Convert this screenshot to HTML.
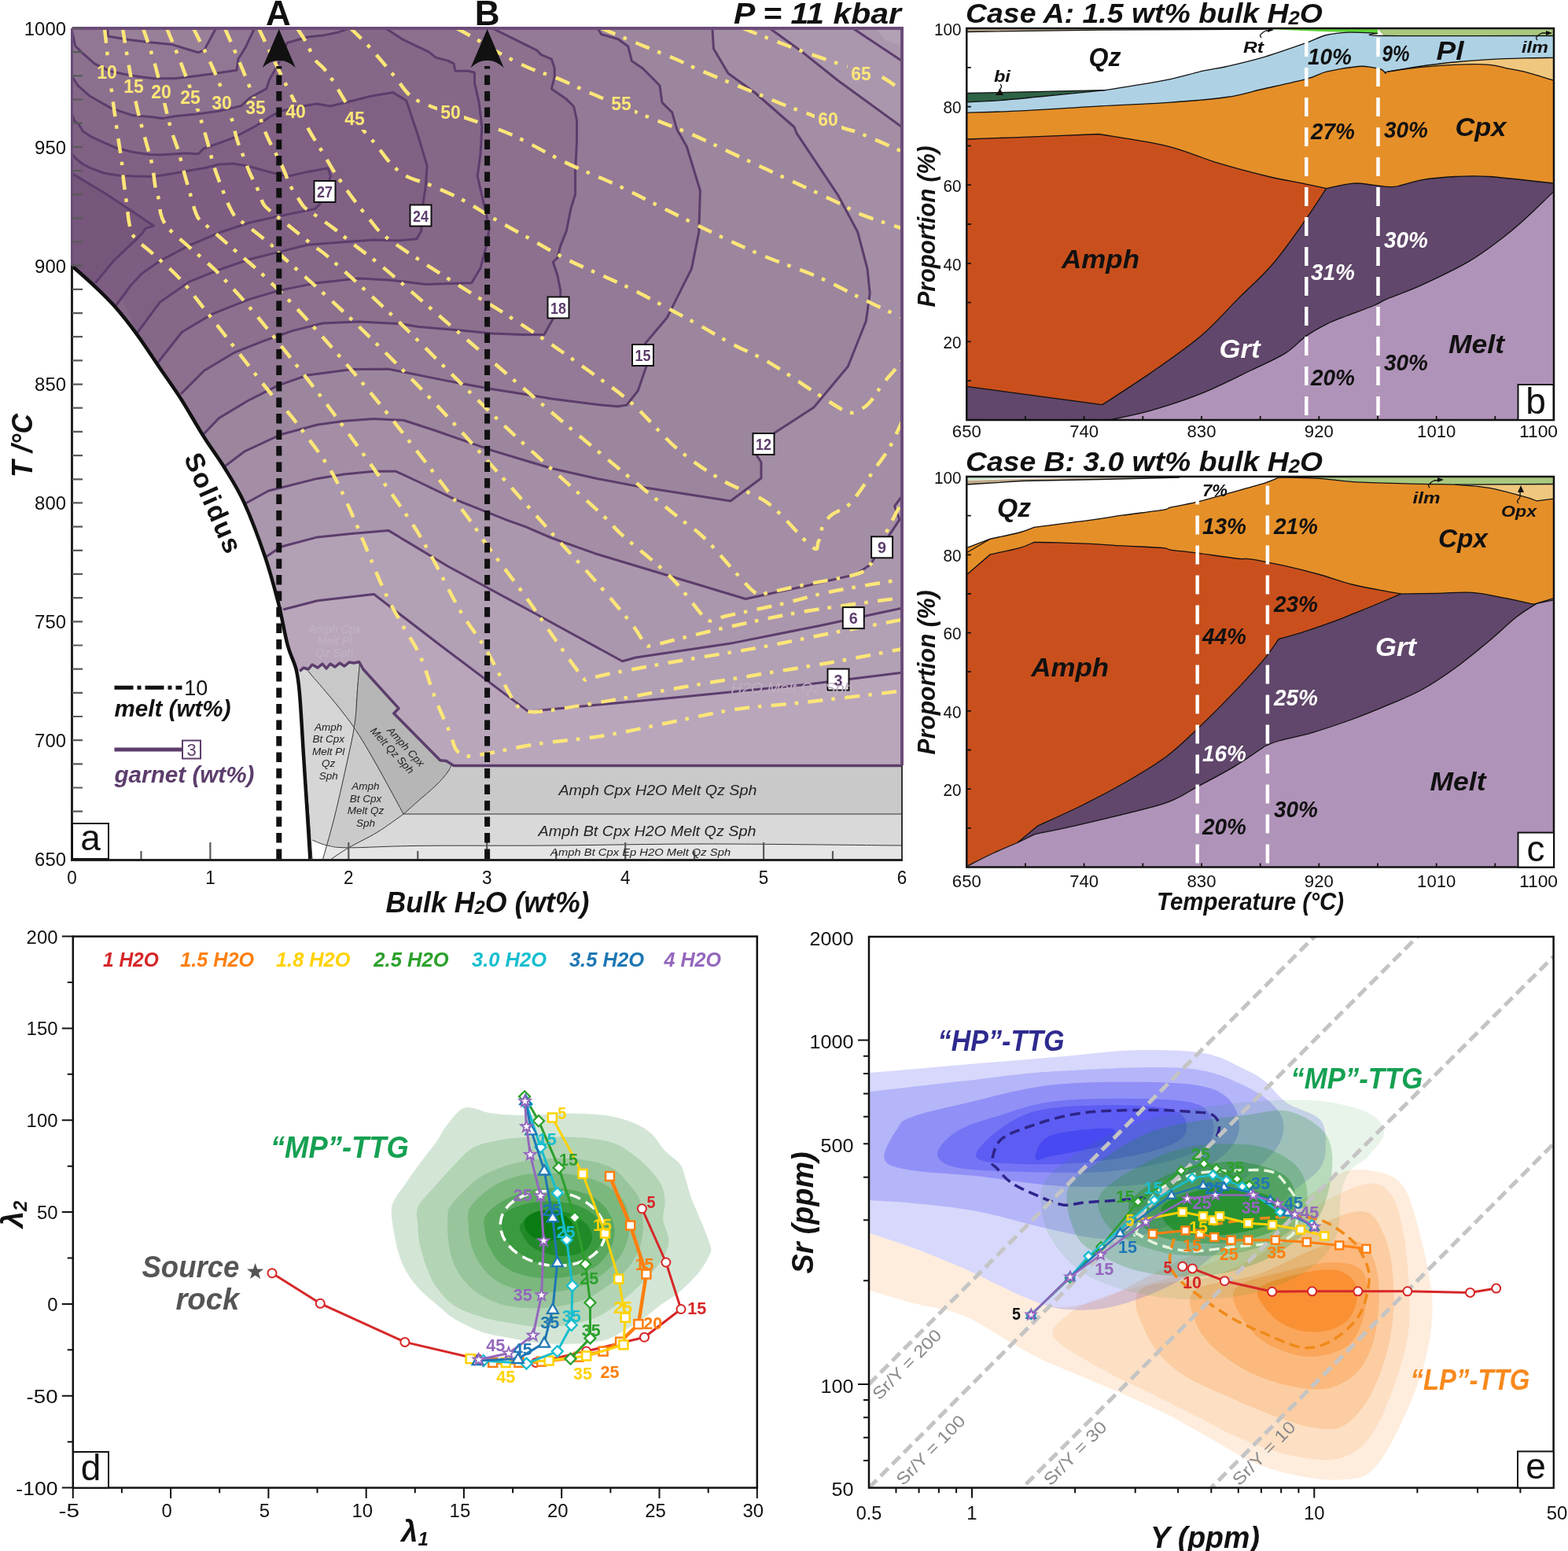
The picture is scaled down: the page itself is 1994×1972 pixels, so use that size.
<!DOCTYPE html><html><head><meta charset="utf-8"><style>html,body{margin:0;padding:0;background:#fff;}svg{display:block;}</style></head><body><svg width="1994" height="1972" viewBox="0 0 1994 1972"><defs><linearGradient id="gA" x1="0" y1="0" x2="1" y2="0.6"><stop offset="0" stop-color="#fff" stop-opacity="0"/><stop offset="1" stop-color="#fff" stop-opacity="0.10"/></linearGradient></defs>
<defs><clipPath id="clipA"><path d="M91.5,36 L1147,36 L1147,973.5 L1147,973.5 L577,973.5 L567.6,967.5 L559.8,966.7 L500.8,907 L507,900.7 L462,851 L456.6,841.5 L450,843 L444,842 L438,847 L432,843 L426,848 L420,844 L415,850 L410,844 L404,849 L397,845 L392,851 L386,849 L381.2,853.4 L376.6,851 L365.7,820 L354,766.8 L337,707.8 L310.6,639.4 L285.7,595 L259.6,556 L231.3,509 L203,467.5 L174.8,426.1 L146.5,390.3 L118.3,362 L91.5,338 Z"/></clipPath></defs>
<path d="M457,830 L462,851 L507,900.7 L500.8,907 L559.8,966.7 L567.6,967.5 L574,972 L569,982 L555,998 L530,1020 L513.2,1035 L482,980 L452.7,928.7 L451,921 L452,890 L455,860 Z" fill="#b5b6b5"/>
<path d="M392,853.4 L400,835 L457,830 L455,860 L452,890 L451,921 L452.7,928.7 Z" fill="#c8c8c8"/>
<path d="M451,921 L452.7,928.7 L482,980 L513.2,1035 L480,1058 L443.4,1077.8 L425,1086 L415,1092 L410.7,1092 L425,1040 L440,975 Z" fill="#cacaca"/>
<path d="M378,840 L400,835 L392,853.4 L452.7,928.7 L451,921 L440,975 L425,1040 L410.7,1092 L405,1092 L397,1068 L392,1053 L386,959.8 L381,882 Z" fill="#d6d6d6"/>
<path d="M574,965 L1147,965 L1147,1035 L513.2,1035 L530,1020 L555,998 L569,982 Z" fill="#c9c9c9"/>
<path d="M513.2,1035 L1147,1035 L1147,1075 L900,1073 L700,1075 L531.9,1075.4 L443.4,1077.8 L480,1058 Z" fill="#d9d9d9"/>
<path d="M397,1068 L415.4,1074.7 L443.4,1077.8 L531.9,1075.4 L700,1075 L900,1073 L1147,1075 L1147,1092 L394.4,1092 Z" fill="#e5e5e5"/>
<path d="M396,1068 L415.4,1074.7 L410.7,1092 L396,1092 Z" fill="#ffffff"/>
<g clip-path="url(#clipA)">
<path d="M91.5,36 L1147,36 L1147,973.5 L1147,973.5 L577,973.5 L567.6,967.5 L559.8,966.7 L500.8,907 L507,900.7 L462,851 L456.6,841.5 L450,843 L444,842 L438,847 L432,843 L426,848 L420,844 L415,850 L410,844 L404,849 L397,845 L392,851 L386,849 L381.2,853.4 L376.6,851 L365.7,820 L354,766.8 L337,707.8 L310.6,639.4 L285.7,595 L259.6,556 L231.3,509 L203,467.5 L174.8,426.1 L146.5,390.3 L118.3,362 L91.5,338 Z" fill="#b9a6bb"/>
<path d="M360.2,775 L403.7,763.7 L475.5,755.5 L560,820.5 L673.4,905.9 L690.4,902.8 L870.6,885.7 L1025.8,870.2 L1147,855.3 L1200,855 L1200,0 L60,0 L60,800 Z" fill="#b2a0b5"/>
<path d="M337,709 L357.1,695.3 L403.7,682.9 L447.1,678.4 L494.2,674.6 L522.5,691.6 L560.1,714.2 L569.6,720 L674.9,777 L791.4,840.7 L808.4,836 L932.7,817.4 L1041.4,795.7 L1147,773.3 L1200,773 L1200,77.6 L1084.5,36 L1147,77.6 L1084.5,0 L60,0 L60,720 Z" fill="#ab97ad"/>
<path d="M310.6,641 L341.6,624 L403.7,608.4 L437.7,603 L475.4,599.3 L503.6,599.3 L531.9,612.5 L579,635.1 L616.7,650.1 L644.9,661.4 L668.7,669.9 L701.4,684 L760,704.8 L948.2,761.5 L1025,745 L1088,730.4 L1106.6,718 L1143.9,660.6 L1137.6,643.5 L1147,631 L1200,631 L1200,161.5 L1147,161.5 L1065.8,102.5 L1019,65.2 L978.9,36 L978.9,0 L60,0 L60,650 Z" fill="#a38ea5"/>
<path d="M285.7,593 L310.6,574.2 L357.1,552.5 L403.7,540 L437.7,535.2 L475.4,532.4 L513,534.3 L550.7,546.5 L588.4,559.7 L626.1,572.9 L663.8,584.2 L701.4,595.5 L760,608.7 L817.4,619.6 L929,637 L968,608 L968,587.7 L962.3,579 L985.5,550 L1034.8,518.1 L1078.3,466 L1101.4,408 L1106.2,372.7 L1103,341.6 L1090.7,295 L1065.8,248.4 L1013,169.3 L1010,161.5 L960.2,118 L926,93.2 L907.5,62.1 L905.9,36 L905.9,0 L60,0 L60,600 Z" fill="#9c869e"/>
<path d="M257,554 L278.4,531.6 L316.1,509 L353.7,490.1 L391.4,476.9 L448,469.4 L494.2,469.3 L513,473 L550.7,480.6 L588.4,488.1 L626.1,494.7 L673.2,502.2 L701.4,507 L760,514.5 L785.5,516.7 L797,515 L811.2,496.9 L822,465.8 L820.3,437 L848.4,403.7 L879.5,341.6 L888.8,295 L890.4,242.2 L873.3,186.3 L860.9,164.6 L854.7,142.9 L842,130.4 L839,108.7 L817.4,87 L803.4,77.6 L798.8,59 L786,49.7 L764.6,43.5 L760,36 L760,0 L60,0 L60,560 Z" fill="#947a96"/>
<path d="M230,501 L259.6,471.3 L297.2,448.7 L334.9,433.6 L372.6,420.4 L410.3,411 L456.5,409 L509.3,411.8 L531.9,415.6 L588.4,420.3 L626.1,424.1 L663.8,425.6 L692,425.6 L703.3,405.2 L712.7,378.8 L712.7,369.1 L709,350.3 L703.3,333.3 L709,327.7 L712.7,312.6 L720.3,293.8 L725.9,265.5 L731.6,246.7 L731.6,218.4 L733.5,180.7 L733.5,152.5 L729.7,135.5 L720.3,126.1 L701.4,112.9 L705.2,97.8 L705.2,86.5 L701.4,75.2 L688.2,69.6 L682.6,63.9 L626.1,36 L626,0 L60,0 L60,510 Z" fill="#8c708e"/>
<path d="M200,462 L231.3,422.3 L269,399.7 L316.1,380.9 L353.7,369.6 L400.8,360.1 L456.5,354 L494.2,355.9 L541.3,361.6 L599.7,359.7 L611,340.9 L618.5,312.6 L622.3,290 L616.7,265.5 L607.2,224 L611,195.8 L612.9,161.9 L609.1,129.9 L603.5,105.4 L603.5,92.2 L595.9,90.3 L579,90.3 L577.1,80.9 L569.6,77.1 L554.5,73.3 L545.1,65.8 L513,50.7 L490.4,36 L490,0 L60,0 L60,470 Z" fill="#856888"/>
<path d="M91.5,145 L94.7,153.5 L100.5,158.7 L105.7,167.1 L116.2,173.9 L131.9,181.2 L147.6,188 L168.5,193.3 L190,196.4 L206.8,196.7 L236.9,194.8 L252,195.8 L259,189 L297.2,175.1 L325.5,160 L346.2,146.8 L357.5,141.2 L382,135.5 L402.7,132 L420,135 L437.7,130.8 L471.6,122.3 L499.8,117.6 L516.8,128 L531.9,173.2 L543.2,210.9 L541.3,237.2 L537.5,261.7 L535.7,293.8 L530,303.8 L505.5,306 L475.4,305 L447.1,306.9 L391.4,311.2 L353.7,320.6 L316.1,330 L278.4,343.2 L240.7,358.2 L203,384.6 L174,424 L60,145 L60,430 Z" fill="#806184"/>
<path d="M91.5,196 L97.8,202.7 L105.7,209 L116.2,214.2 L131.9,220 L150,223 L169.1,224 L195.5,224.5 L221.9,220.3 L259.6,213.7 L278.4,209 L297.2,208 L317.7,211.8 L340,218 L365.4,224.2 L391.4,218.4 L417.1,213.8 L420.5,224 L412,250 L406.8,259.4 L400.6,265.6 L353.7,275 L317.7,283 L278.4,296 L240.7,312 L203,331.9 L180,348 L165.4,364 L146.5,390 L60,390 L60,196 Z" fill="#7d5d81"/>
<path d="M91.5,222 L94.1,222.1 L135.5,247 L172.8,271.8 L195.5,287.2 L185.2,290.4 L181.1,296.6 L172.8,304.9 L145,331 L121.1,360 L60,360 L60,222 Z" fill="#76567a"/>
<path d="M91.5,97 L99.4,109.1 L114.5,122.3 L140.9,137.4 L169.1,146.8 L193.6,148.7 L206.8,150.6 L221.9,147.7 L250.1,144.9 L278.4,141.2 L306.6,134.6 L318,124.2 L338.7,112.9 L342.5,101.6 L349.9,88.5 L357,75 L365,54.5 L391.4,47 L410.3,45.1 L429.1,41.3 L444.2,36 L444,0 L60,0 L60,97 Z" fill="#8c718f"/>
<path d="M91.5,39 L95.7,58.3 L105.1,67.7 L120.1,80.9 L139,90.3 L165.4,95.9 L195.5,99.7 L221.9,99.7 L246.4,96.9 L269,94 L301,89.3 L302.9,75.2 L312.3,60.1 L323.6,36 L323.6,0 L60,0 L60,39 Z" fill="#927794"/>
<path d="M137.1,36 L137.1,46 L165.4,50.7 L188,53.5 L218.1,56.4 L252,66.7 L259.6,63.9 L274.6,36 L274.6,0 L137,0 Z" fill="#998099"/>
</g>
<path d="M392,853.4 C402.1,866 432.5,898.4 452.7,928.7 C472.9,959 503.1,1017.3 513.2,1035" fill="none" stroke="#333" stroke-width="1"/>
<path d="M457.3,844.8 C456.9,849 456.1,857.3 455,870 C453.9,882.7 453.5,903.5 451,921 C448.5,938.5 444.3,955.2 440,975 C435.7,994.8 429.9,1020.5 425,1040 C420.1,1059.5 413.1,1083.3 410.7,1092" fill="none" stroke="#333" stroke-width="1"/>
<path d="M574,972.5 C573.2,974.1 572.2,977.8 569,982 C565.8,986.2 561.5,991.7 555,998 C548.5,1004.3 537,1013.8 530,1020 C523,1026.2 516,1032.5 513.2,1035" fill="none" stroke="#333" stroke-width="1"/>
<path d="M513.2,1035 L1147,1035" fill="none" stroke="#333" stroke-width="1"/>
<path d="M513.2,1035 C507.7,1038.8 491.6,1050.9 480,1058 C468.4,1065.1 453.1,1072.1 443.4,1077.8 C433.7,1083.5 425.2,1089.6 421.6,1092" fill="none" stroke="#333" stroke-width="1"/>
<path d="M397,1068 C400.1,1069.1 407.7,1073.1 415.4,1074.7 C423.1,1076.3 424,1077.7 443.4,1077.8 C462.8,1077.9 489.1,1075.9 531.9,1075.4 C574.7,1074.9 638.6,1075.4 700,1075 C761.4,1074.6 825.5,1073 900,1073 C974.5,1073 1105.8,1074.7 1147,1075" fill="none" stroke="#333" stroke-width="1"/>
<path d="M384,930 C385,941.7 387.8,973 390,1000 C392.2,1027 395.8,1076.7 397,1092" fill="none" stroke="#333" stroke-width="1"/>
<g fill="none" stroke="#5c3d6c" stroke-width="3" stroke-linejoin="round" clip-path="url(#clipA)">
<path d="M91.5,222 L94.1,222.1 L135.5,247 L172.8,271.8 L195.5,287.2 L185.2,290.4 L181.1,296.6 L172.8,304.9 L145,331 L121.1,360"/>
<path d="M91.5,196 L97.8,202.7 L105.7,209 L116.2,214.2 L131.9,220 L150,223 L169.1,224 L195.5,224.5 L221.9,220.3 L259.6,213.7 L278.4,209 L297.2,208 L317.7,211.8 L340,218 L365.4,224.2 L391.4,218.4 L417.1,213.8 L420.5,224 L412,250 L406.8,259.4 L400.6,265.6 L353.7,275 L317.7,283 L278.4,296 L240.7,312 L203,331.9 L180,348 L165.4,364 L146.5,390"/>
<path d="M91.5,145 L94.7,153.5 L100.5,158.7 L105.7,167.1 L116.2,173.9 L131.9,181.2 L147.6,188 L168.5,193.3 L190,196.4 L206.8,196.7 L236.9,194.8 L252,195.8 L259,189 L297.2,175.1 L325.5,160 L346.2,146.8 L357.5,141.2 L382,135.5 L402.7,132 L420,135 L437.7,130.8 L471.6,122.3 L499.8,117.6 L516.8,128 L531.9,173.2 L543.2,210.9 L541.3,237.2 L537.5,261.7 L535.7,293.8 L530,303.8 L505.5,306 L475.4,305 L447.1,306.9 L391.4,311.2 L353.7,320.6 L316.1,330 L278.4,343.2 L240.7,358.2 L203,384.6 L174,424"/>
<path d="M200,462 L231.3,422.3 L269,399.7 L316.1,380.9 L353.7,369.6 L400.8,360.1 L456.5,354 L494.2,355.9 L541.3,361.6 L599.7,359.7 L611,340.9 L618.5,312.6 L622.3,290 L616.7,265.5 L607.2,224 L611,195.8 L612.9,161.9 L609.1,129.9 L603.5,105.4 L603.5,92.2 L595.9,90.3 L579,90.3 L577.1,80.9 L569.6,77.1 L554.5,73.3 L545.1,65.8 L513,50.7 L490.4,36"/>
<path d="M91.5,97 L99.4,109.1 L114.5,122.3 L140.9,137.4 L169.1,146.8 L193.6,148.7 L206.8,150.6 L221.9,147.7 L250.1,144.9 L278.4,141.2 L306.6,134.6 L318,124.2 L338.7,112.9 L342.5,101.6 L349.9,88.5 L357,75 L365,54.5 L391.4,47 L410.3,45.1 L429.1,41.3 L444.2,36"/>
<path d="M91.5,39 L95.7,58.3 L105.1,67.7 L120.1,80.9 L139,90.3 L165.4,95.9 L195.5,99.7 L221.9,99.7 L246.4,96.9 L269,94 L301,89.3 L302.9,75.2 L312.3,60.1 L323.6,36"/>
<path d="M137.1,36 L137.1,46 L165.4,50.7 L188,53.5 L218.1,56.4 L252,66.7 L259.6,63.9 L274.6,36"/>
<path d="M230,501 L259.6,471.3 L297.2,448.7 L334.9,433.6 L372.6,420.4 L410.3,411 L456.5,409 L509.3,411.8 L531.9,415.6 L588.4,420.3 L626.1,424.1 L663.8,425.6 L692,425.6 L703.3,405.2 L712.7,378.8 L712.7,369.1 L709,350.3 L703.3,333.3 L709,327.7 L712.7,312.6 L720.3,293.8 L725.9,265.5 L731.6,246.7 L731.6,218.4 L733.5,180.7 L733.5,152.5 L729.7,135.5 L720.3,126.1 L701.4,112.9 L705.2,97.8 L705.2,86.5 L701.4,75.2 L688.2,69.6 L682.6,63.9 L626.1,36"/>
<path d="M257,554 L278.4,531.6 L316.1,509 L353.7,490.1 L391.4,476.9 L448,469.4 L494.2,469.3 L513,473 L550.7,480.6 L588.4,488.1 L626.1,494.7 L673.2,502.2 L701.4,507 L760,514.5 L785.5,516.7 L797,515 L811.2,496.9 L822,465.8 L820.3,437 L848.4,403.7 L879.5,341.6 L888.8,295 L890.4,242.2 L873.3,186.3 L860.9,164.6 L854.7,142.9 L842,130.4 L839,108.7 L817.4,87 L803.4,77.6 L798.8,59 L786,49.7 L764.6,43.5 L760,36"/>
<path d="M285.7,593 L310.6,574.2 L357.1,552.5 L403.7,540 L437.7,535.2 L475.4,532.4 L513,534.3 L550.7,546.5 L588.4,559.7 L626.1,572.9 L663.8,584.2 L701.4,595.5 L760,608.7 L817.4,619.6 L929,637 L968,608 L968,587.7 L962.3,579 L985.5,550 L1034.8,518.1 L1078.3,466 L1101.4,408 L1106.2,372.7 L1103,341.6 L1090.7,295 L1065.8,248.4 L1013,169.3 L1010,161.5 L960.2,118 L926,93.2 L907.5,62.1 L905.9,36"/>
<path d="M310.6,641 L341.6,624 L403.7,608.4 L437.7,603 L475.4,599.3 L503.6,599.3 L531.9,612.5 L579,635.1 L616.7,650.1 L644.9,661.4 L668.7,669.9 L701.4,684 L760,704.8 L948.2,761.5 L1025,745 L1088,730.4 L1106.6,718 L1143.9,660.6 L1137.6,643.5 L1147,631"/>
<path d="M1147,161.5 L1065.8,102.5 L1019,65.2 L978.9,36"/>
<path d="M337,709 L357.1,695.3 L403.7,682.9 L447.1,678.4 L494.2,674.6 L522.5,691.6 L560.1,714.2 L569.6,720 L674.9,777 L791.4,840.7 L808.4,836 L932.7,817.4 L1041.4,795.7 L1147,773.3"/>
<path d="M1147,77.6 L1084.5,36"/>
<path d="M360.2,775 L403.7,763.7 L475.5,755.5 L560,820.5 L673.4,905.9 L690.4,902.8 L870.6,885.7 L1025.8,870.2 L1147,855.3"/>
</g>
<path d="M381.2,853.4 L386,849 L392,851 L397,845 L404,849 L410,844 L415,850 L420,844 L426,848 L432,843 L438,847 L444,842 L450,843 L456.6,841.5 L462,851 L507,900.7 L500.8,907 L559.8,966.7 L567.6,967.5 L577,973.5 L1147,973.5" fill="none" stroke="#5c3d6c" stroke-width="3.5" stroke-linejoin="round"/>
<mask id="mA" maskUnits="userSpaceOnUse" x="0" y="0" width="1994" height="1972"><rect x="0" y="0" width="1994" height="1972" fill="#fff"/><rect x="119" y="80" width="34" height="26" fill="#000"/><rect x="153" y="98" width="34" height="26" fill="#000"/><rect x="188" y="105" width="34" height="26" fill="#000"/><rect x="225" y="112" width="34" height="26" fill="#000"/><rect x="265" y="119" width="34" height="26" fill="#000"/><rect x="308" y="125" width="34" height="26" fill="#000"/><rect x="359" y="130" width="34" height="26" fill="#000"/><rect x="434" y="139" width="34" height="26" fill="#000"/><rect x="556" y="131" width="34" height="26" fill="#000"/><rect x="773" y="120" width="34" height="26" fill="#000"/><rect x="1036" y="140" width="34" height="26" fill="#000"/><rect x="1078" y="82" width="34" height="26" fill="#000"/></mask>
<g clip-path="url(#clipA)"><g mask="url(#mA)" fill="none" stroke="#fde678" stroke-width="4.5" stroke-dasharray="19 11 4.5 12.5">
<path d="M133,36 C134.2,46.7 137.5,79.3 140,100 C142.5,120.7 145.6,143.1 148,160 C150.4,176.9 152.6,189.7 154.2,201.4 C155.8,213.1 156.1,220.4 157.3,230.4 C158.5,240.4 160.3,252.8 161.4,261.4 C162.5,270 162.9,276.1 164,282 C165.1,287.9 166,292.8 168,297 C170,301.2 171.1,302.2 176,307 C180.9,311.8 188.5,317.3 197.7,325.6 C206.9,333.9 218.8,343.4 231,357 C243.2,370.6 252.6,383.7 271,407 C289.4,430.3 325.7,477.4 341.6,497 C357.5,516.6 358.7,515.2 366.5,524.5 C374.3,533.8 379.4,540.6 388.2,552.5 C397,564.4 409.7,579.8 419.3,596 C428.9,612.2 434.5,624.2 446,650 C457.5,675.8 477.4,726.4 488.4,750.6 C499.4,774.8 504.3,781 512,795 C519.7,809 527.6,819 534.5,834.5 C541.4,850 547.3,872.1 553.6,888.3 C559.9,904.5 567.8,921 572.2,931.8 C576.6,942.6 576.4,948.1 580,953 C583.6,957.9 587.6,960.4 594,961.3 C600.4,962.2 603.1,960.8 618.3,958.2 C633.5,955.6 660.2,949.5 685.4,945.6 C710.6,941.8 741.3,939.7 769.3,935.1 C797.2,930.5 825.1,923.9 853.1,918.3 C881.1,912.7 909,905.8 937,901.6 C965,897.4 985.9,897.1 1020.9,893.2 C1055.9,889.4 1126,881 1147,878.5"/>
<path d="M156,36 C157.5,45 161.8,72.7 165,90 C168.2,107.3 171.6,125.2 175,140 C178.4,154.8 182.1,167 185.2,178.6 C188.3,190.2 191.4,199.7 193.5,209.7 C195.6,219.7 196.3,231.4 197.7,238.7 C199.1,245.9 200.7,247.6 201.8,253.2 C202.9,258.8 203.1,266.7 204.5,272 C205.9,277.3 207.7,281.2 210,285 C212.3,288.8 212.9,289.4 218.4,294.6 C223.9,299.8 234.9,309.1 243.2,316.3 C251.5,323.5 260.8,331.3 268,338 C275.2,344.7 276.2,345.2 286.7,356.7 C297.2,368.2 308.8,379.8 331,407 C353.2,434.2 389.6,479.5 420,520 C450.4,560.5 492.3,619.2 513.5,650 C534.7,680.8 535.2,683.5 547.1,704.5 C559,725.5 572.9,755.5 584.8,775.8 C596.7,796.1 607.1,807.2 618.3,826.1 C629.5,845 643.8,876.2 651.9,889 C660,901.8 660.6,900.5 667,903 C673.4,905.5 672,906.4 690.4,904.3 C708.8,902.2 747.4,895.6 777.4,890.4 C807.4,885.2 839.5,878.7 870.6,873.3 C901.7,867.9 932.7,863 963.7,857.8 C994.8,852.6 1026.4,847.6 1056.9,842.2 C1087.5,836.8 1132,828 1147,825.2"/>
<path d="M182,36 C183.8,41.3 189.5,57.4 192.7,67.7 C195.9,78 197.3,82.4 201.2,97.8 C205.1,113.2 212.1,144.4 216.3,160 C220.5,175.6 223.5,180.8 226.6,191.1 C229.7,201.4 232.1,212.1 234.9,222.1 C237.7,232.1 241,243.4 243.2,251.1 C245.4,258.8 246.5,263.7 248,268 C249.5,272.3 250.3,274.5 252,277 C253.7,279.5 253.9,279.4 258,283 C262.1,286.6 269.1,292.4 276.3,298.7 C283.5,304.9 291.2,311.7 301.2,320.5 C311.2,329.3 321.4,337.1 336.4,351.5 C351.4,365.9 367.1,380.6 391,407 C414.9,433.4 447,469.5 480,510 C513,550.5 566,619.7 589,650 C612,680.3 605,673.7 618.3,691.9 C631.6,710.1 654,738.7 668.7,759 C683.4,779.3 694.5,796.7 706.4,813.5 C718.3,830.3 733,851.4 739.9,859.6 C746.8,867.9 741.8,863.6 748,863 C754.2,862.4 757,860.2 777.4,856.2 C797.8,852.2 839.5,844.5 870.6,839.1 C901.7,833.7 932.7,829.3 963.7,823.6 C994.8,817.9 1026.4,811 1056.9,805 C1087.5,799 1132,790.8 1147,787.9"/>
<path d="M212,36 C215,43.3 223.7,63.5 230,80 C236.3,96.5 244.3,118.2 250,135 C255.7,151.8 260.2,167.9 263.9,180.7 C267.6,193.5 268.9,201.5 272.2,211.8 C275.5,222.2 280.8,235.4 283.6,242.8 C286.4,250.2 287.1,252.3 288.8,256.3 C290.5,260.3 292.1,263.7 294,267 C295.9,270.3 295.9,272.1 300,276 C304.1,279.9 311.4,284.5 318.8,290.4 C326.2,296.2 339,306.1 344.7,311.1 C350.4,316.1 335.7,304.5 352.9,320.5 C370.1,336.5 413.5,373.8 448,407 C482.5,440.2 521.8,479.5 560,520 C598.2,560.5 651.9,622 677,650 C702.1,678 697.3,673 710.6,687.7 C723.9,702.4 741.3,720.5 756.7,738 C772.1,755.5 792.3,779.3 802.8,792.6 C813.3,805.9 815.4,813 819.6,817.7 C823.8,822.4 822.1,821.6 828,821 C833.9,820.4 837.5,818.5 855,814.3 C872.5,810.1 904.2,801.9 932.7,795.7 C961.2,789.5 990.1,783 1025.8,777 C1061.5,771 1126.8,762.8 1147,760"/>
<path d="M246,36 C250,44.2 262.7,68.5 270,85 C277.3,101.5 284.8,119.7 290,135 C295.2,150.3 298.3,166.9 301.2,176.6 C304.1,186.3 304.6,185.9 307.4,193.1 C310.1,200.3 314.6,212.8 317.7,220 C320.8,227.2 323.8,231.6 326,236.6 C328.2,241.6 329.5,246 331.2,250.1 C332.9,254.2 333.1,257.4 336.4,261.4 C339.7,265.4 345,269.1 350.9,273.9 C356.8,278.7 363.7,284 371.6,290.4 C379.5,296.8 389.9,305.3 398.5,312.2 C407.1,319.1 405.6,316 423.3,331.8 C441.1,347.6 468.9,372.3 505,407 C541.1,441.7 597.3,499.5 640,540 C682.7,580.5 736,626.8 761,650 C786,673.2 774.9,665.4 790.2,679.4 C805.6,693.4 835.6,716.4 853.1,733.9 C870.6,751.4 885.8,775.2 895.1,784.2 C904.4,793.2 904.3,788.2 909,788 C913.7,787.8 909.1,786.6 923.4,783.2 C937.7,779.8 972.5,772.9 994.8,767.7 C1017,762.5 1031.5,757.4 1056.9,752.2 C1082.3,747 1132,739.2 1147,736.6"/>
<path d="M286,36 C289.2,43.3 298.5,64.3 305,80 C311.5,95.7 320.1,116.7 325,130 C329.9,143.3 331.2,151.4 334.3,160 C337.4,168.6 339.6,173.4 343.6,181.7 C347.6,190 353.8,200.5 358.1,209.7 C362.4,218.8 365.9,229.3 369.5,236.6 C373.1,243.8 377,248.7 379.9,253.2 C382.8,257.7 384,260.4 387.1,263.5 C390.2,266.6 392.3,267.3 398.5,271.8 C404.7,276.3 415.8,283.8 424.4,290.4 C433,296.9 439.7,302.8 450.2,311.1 C460.7,319.4 468.4,324.1 487.5,340.1 C506.6,356.1 526.2,373.7 565,407 C603.8,440.3 672,499.5 720,540 C768,580.5 823.8,626.1 853,650 C882.2,673.9 881.1,670.2 895.1,683.5 C909.1,696.8 925.8,717.8 937,729.7 C948.2,741.6 955,751 962.2,754.8 C969.4,758.6 969.4,754.7 980,752.7 C990.6,750.7 1007.8,746.6 1025.8,742.9 C1043.8,739.2 1074.5,734.5 1088,730.4 C1101.5,726.2 1101.4,724.2 1106.6,718 C1111.8,711.8 1114.3,702.5 1119,693.2 C1123.7,683.9 1129.8,671.3 1134.5,662.1 C1139.2,652.9 1144.9,642 1147,638"/>
<path d="M329,36 C332.5,43.3 343.2,66 350,80 C356.8,94 362.9,106 370,120 C377.1,134 385.7,151.9 392.3,164.1 C398.9,176.3 404.7,184.5 409.9,193.1 C415.1,201.7 419.2,209.3 423.3,215.9 C427.4,222.5 430.2,226.1 434.7,232.5 C439.2,238.9 444.2,246.3 450.2,254.2 C456.2,262.1 464.3,272.3 470.9,280.1 C477.5,287.9 478.5,291.7 490,300.8 C501.5,309.9 521.7,322.9 540,335 C558.3,347.1 585.2,363.9 600,373.2 C614.8,382.5 614.5,381.4 629,390.6 C643.5,399.8 667.7,415.3 687,428.3 C706.3,441.3 725.6,454.8 744.9,468.8 C764.2,482.8 783.6,495.4 802.9,512.3 C822.2,529.2 841.6,553.9 860.9,570.3 C880.2,586.7 899.5,599.3 918.8,610.9 C938.1,622.5 957.9,625.9 976.8,639.9 C995.6,653.9 1021.3,686.7 1031.9,694.9 C1042.5,703.1 1038.2,693.5 1040.6,689.1 C1043,684.8 1043.5,674.6 1046.4,668.8 C1049.3,663 1052.7,658.6 1058,654.3 C1063.3,650 1072.5,647.6 1078.3,642.8 C1084.1,638 1087.5,632.6 1092.8,625.4 C1098.1,618.1 1103.9,608.5 1110.2,599.3 C1116.5,590.1 1124.3,580.8 1130.4,570.3 C1136.5,559.8 1144.2,541.7 1147,536"/>
<path d="M378,36 C380,39.2 386.3,48.5 390,55 C393.7,61.5 396.4,70 400,75.2 C403.6,80.5 407.5,82.1 411.3,86.5 C415.1,90.9 417.9,94.4 422.6,101.6 C427.3,108.8 434.6,121.7 439.6,129.9 C444.6,138.1 449,144.7 452.8,150.6 C456.6,156.5 458.4,160.6 462.2,165.6 C466,170.6 471.9,176.6 475.4,180.7 C478.8,184.8 479.1,185.4 482.9,190.1 C486.7,194.8 492.4,203.3 498,209 C503.6,214.7 508.6,219.6 516.8,224 C524.9,228.4 535,230.3 546.9,235.3 C558.8,240.3 575.2,247.3 588.4,254.2 C601.6,261.1 612,268.6 626.1,276.8 C640.2,285 657.5,294.4 673.2,303.2 C688.9,312 705,321.7 720.3,329.5 C735.6,337.3 751.4,343.7 765.2,350 C779,356.3 788.4,360.1 802.9,367.4 C817.4,374.6 837.7,385.8 852.2,393.5 C866.7,401.2 876.9,406.6 889.9,413.8 C902.9,421.1 915.9,429.3 930.4,437 C944.9,444.7 959.4,450 976.8,460.1 C994.2,470.2 1017.9,487.2 1034.8,497.8 C1051.7,508.4 1067.7,520.5 1078.3,523.9 C1088.9,527.3 1093.3,521 1098.6,518.1 C1103.9,515.2 1106.3,511.3 1110.2,506.5 C1114.1,501.7 1116.9,495.4 1121.7,489.1 C1126.5,482.8 1134.9,474 1139.1,468.8 C1143.3,463.6 1145.7,459.8 1147,458"/>
<path d="M446,36 C450,40 461,50.2 470,60 C479,69.8 491.2,84.6 500,95 C508.8,105.4 514.2,115.5 522.5,122.3 C530.8,129.1 539,131.6 550,136 C561,140.4 571.6,142.8 588.4,148.7 C605.2,154.6 628.6,161.6 650.6,171.3 C672.6,181 697.7,196.3 720.3,207.1 C742.9,217.9 764.7,226 786,236 C807.3,246 827.2,256.7 848,267 C868.8,277.3 889.8,288.2 910.6,298 C931.4,307.8 951.1,317 972.7,326 C994.3,335 1019.3,343 1040,352 C1060.7,361 1079.1,371.3 1096.9,380 C1114.7,388.7 1138.7,400 1147,404"/>
<path d="M581,36 C585.4,38.5 598.1,45.4 607.2,50.7 C616.3,56 624.5,61.7 635.5,67.7 C646.5,73.7 661,81.2 673.2,86.5 C685.5,91.8 694.5,93.7 709,99.7 C723.5,105.7 741.9,114.6 760,122.3 C778.1,130 797.5,137.9 817.4,146 C837.3,154.1 861.4,163.1 879.5,170.8 C897.6,178.6 910.5,185.2 926,192.5 C941.5,199.8 957.2,207.1 972.7,214.3 C988.2,221.6 1003.8,228.8 1019.3,236 C1034.8,243.2 1052.9,251.6 1065.8,257.8 C1078.7,264 1083.4,267.9 1096.9,273.3 C1110.4,278.7 1138.7,287.5 1147,290.4"/>
<path d="M765,36 C772.5,39.2 794.5,48.6 810,55 C825.5,61.4 844.1,68.7 857.8,74.5 C871.4,80.3 874.8,82.8 891.9,90 C909,97.2 942.6,110.8 960.2,118 C977.8,125.2 985.1,128.6 997.5,133.5 C1009.9,138.4 1022.9,142.8 1034.8,147.5 C1046.7,152.2 1058.7,157.6 1069,161.5 C1079.3,165.4 1083.9,165.6 1096.9,170.8 C1109.9,176 1138.7,188.9 1147,192.5"/>
<path d="M944.7,36 C954.5,39.8 983.5,51.5 1003.7,59 C1023.9,66.5 1047.7,75 1065.8,80.7 C1083.9,86.4 1098.9,87.5 1112.4,93.2 C1125.9,98.9 1141.2,111.3 1147,114.9"/>
</g></g>
<g font-family="Liberation Sans, Arial, sans-serif" font-weight="bold" font-size="23" fill="#fde678" text-anchor="middle">
<text x="136" y="100">10</text>
<text x="170" y="118">15</text>
<text x="205" y="125">20</text>
<text x="242" y="132">25</text>
<text x="282" y="139">30</text>
<text x="325" y="145">35</text>
<text x="376" y="150">40</text>
<text x="451" y="159">45</text>
<text x="573" y="151">50</text>
<text x="790" y="140">55</text>
<text x="1053" y="160">60</text>
<text x="1095" y="102">65</text>
</g>
<path d="M91.5,36 L1147,36 L1147,973" fill="none" stroke="#6b4c78" stroke-width="4"/>
<path d="M91.5,36 L91.5,338" fill="none" stroke="#6b4c78" stroke-width="3"/>
<path d="M1147,973 L1147,1092" fill="none" stroke="#333" stroke-width="2"/>
<path d="M91.5,338 C96,342 109.1,353.3 118.3,362 C127.5,370.7 137.1,379.6 146.5,390.3 C155.9,401 165.4,413.2 174.8,426.1 C184.2,439 193.6,453.7 203,467.5 C212.4,481.3 221.9,494.2 231.3,509 C240.7,523.8 250.5,541.7 259.6,556 C268.7,570.3 277.2,581.1 285.7,595 C294.2,608.9 302.1,620.6 310.6,639.4 C319.2,658.2 329.8,686.6 337,707.8 C344.2,729 349.2,748.1 354,766.8 C358.8,785.5 361.9,806 365.7,820 C369.5,834 374.1,840.7 376.6,851 C379.2,861.3 379.4,863.9 381,882 C382.6,900.1 384.2,931.3 386,959.8 C387.8,988.3 390.6,1031 392,1053 C393.4,1075 394,1085.5 394.4,1092" fill="none" stroke="#111" stroke-width="4.5"/>
<path d="M91.5,338 L91.5,1093.5 L1148,1093.5" fill="none" stroke="#222" stroke-width="3"/>
<path d="M92,1092 h13 M92,1061.8 h13 M92,1031.7 h13 M92,1001.5 h13 M92,971.3 h13 M92,941.1 h13 M92,911 h13 M92,880.8 h13 M92,850.6 h13 M92,820.5 h13 M92,790.3 h13 M92,760.1 h13 M92,729.9 h13 M92,699.8 h13 M92,669.6 h13 M92,639.4 h13 M92,609.3 h13 M92,579.1 h13 M92,548.9 h13 M92,518.7 h13 M92,488.6 h13 M92,458.4 h13 M92,428.2 h13 M92,398.1 h13 M92,367.9 h13 M92,337.7 h13 M92,307.5 h13 M92,277.4 h13 M92,247.2 h13 M92,217 h13 M92,186.9 h13 M92,156.7 h13 M92,126.5 h13 M92,96.3 h13 M92,66.2 h13 M92,36 h13 M179.5,1092 v-10 M267.4,1092 v-21 M355.4,1092 v-10 M443.3,1092 v-21 M531.3,1092 v-10 M619.2,1092 v-21 M707.2,1092 v-10 M795.2,1092 v-21 M883.1,1092 v-10 M971.1,1092 v-21 M1059,1092 v-10" stroke="#5a5a5a" stroke-width="2.2" fill="none"/>
<path d="M354.8,1092 L354.8,84" stroke="#111" stroke-width="7" stroke-dasharray="12.5 8"/>
<path d="M354.8,37 L333.8,86 Q344.8,76 354.8,77 Q364.8,76 375.8,86 Z" fill="#111"/>
<path d="M619.6,1092 L619.6,84" stroke="#111" stroke-width="7" stroke-dasharray="12.5 8"/>
<path d="M619.6,37 L598.6,86 Q609.6,76 619.6,77 Q629.6,76 640.6,86 Z" fill="#111"/>
<rect x="399.5" y="230" width="27" height="27" fill="#fff" stroke="#111" stroke-width="2"/>
<text x="413" y="251" font-family="Liberation Sans, Arial, sans-serif" font-weight="bold" font-size="21" fill="#5c3d6c" text-anchor="middle" textLength="20" lengthAdjust="spacingAndGlyphs">27</text>
<rect x="521.5" y="260.5" width="27" height="27" fill="#fff" stroke="#111" stroke-width="2"/>
<text x="535" y="281.5" font-family="Liberation Sans, Arial, sans-serif" font-weight="bold" font-size="21" fill="#5c3d6c" text-anchor="middle" textLength="20" lengthAdjust="spacingAndGlyphs">24</text>
<rect x="696.5" y="377.5" width="27" height="27" fill="#fff" stroke="#111" stroke-width="2"/>
<text x="710" y="398.5" font-family="Liberation Sans, Arial, sans-serif" font-weight="bold" font-size="21" fill="#5c3d6c" text-anchor="middle" textLength="20" lengthAdjust="spacingAndGlyphs">18</text>
<rect x="804" y="438" width="27" height="27" fill="#fff" stroke="#111" stroke-width="2"/>
<text x="817.5" y="459" font-family="Liberation Sans, Arial, sans-serif" font-weight="bold" font-size="21" fill="#5c3d6c" text-anchor="middle" textLength="20" lengthAdjust="spacingAndGlyphs">15</text>
<rect x="957.5" y="551" width="27" height="27" fill="#fff" stroke="#111" stroke-width="2"/>
<text x="971" y="572" font-family="Liberation Sans, Arial, sans-serif" font-weight="bold" font-size="21" fill="#5c3d6c" text-anchor="middle" textLength="20" lengthAdjust="spacingAndGlyphs">12</text>
<rect x="1108.1" y="682.3" width="27" height="27" fill="#fff" stroke="#111" stroke-width="2"/>
<text x="1121.6" y="703.3" font-family="Liberation Sans, Arial, sans-serif" font-weight="bold" font-size="21" fill="#5c3d6c" text-anchor="middle" textLength="11" lengthAdjust="spacingAndGlyphs">9</text>
<rect x="1071.8" y="772.1" width="27" height="27" fill="#fff" stroke="#111" stroke-width="2"/>
<text x="1085.3" y="793.1" font-family="Liberation Sans, Arial, sans-serif" font-weight="bold" font-size="21" fill="#5c3d6c" text-anchor="middle" textLength="11" lengthAdjust="spacingAndGlyphs">6</text>
<rect x="1052.5" y="850.5" width="27" height="27" fill="#fff" stroke="#111" stroke-width="2"/>
<text x="1066" y="871.5" font-family="Liberation Sans, Arial, sans-serif" font-weight="bold" font-size="21" fill="#5c3d6c" text-anchor="middle" textLength="11" lengthAdjust="spacingAndGlyphs">3</text>
<g font-family="Liberation Sans, Arial, sans-serif">
<text x="84" y="1100.8" font-size="24.5" text-anchor="end" font-weight="normal" font-style="normal" fill="#111" textLength="39.9" lengthAdjust="spacingAndGlyphs" >650</text>
<text x="84" y="949.9" font-size="24.5" text-anchor="end" font-weight="normal" font-style="normal" fill="#111" textLength="39.9" lengthAdjust="spacingAndGlyphs" >700</text>
<text x="84" y="799.1" font-size="24.5" text-anchor="end" font-weight="normal" font-style="normal" fill="#111" textLength="39.9" lengthAdjust="spacingAndGlyphs" >750</text>
<text x="84" y="648.2" font-size="24.5" text-anchor="end" font-weight="normal" font-style="normal" fill="#111" textLength="39.9" lengthAdjust="spacingAndGlyphs" >800</text>
<text x="84" y="497.4" font-size="24.5" text-anchor="end" font-weight="normal" font-style="normal" fill="#111" textLength="39.9" lengthAdjust="spacingAndGlyphs" >850</text>
<text x="84" y="346.5" font-size="24.5" text-anchor="end" font-weight="normal" font-style="normal" fill="#111" textLength="39.9" lengthAdjust="spacingAndGlyphs" >900</text>
<text x="84" y="195.7" font-size="24.5" text-anchor="end" font-weight="normal" font-style="normal" fill="#111" textLength="39.9" lengthAdjust="spacingAndGlyphs" >950</text>
<text x="84" y="44.8" font-size="24.5" text-anchor="end" font-weight="normal" font-style="normal" fill="#111" textLength="53.2" lengthAdjust="spacingAndGlyphs" >1000</text>
<text x="91.5" y="1124" font-size="24.5" text-anchor="middle" font-weight="normal" font-style="normal" fill="#111" textLength="12.5" lengthAdjust="spacingAndGlyphs" >0</text>
<text x="267.4" y="1124" font-size="24.5" text-anchor="middle" font-weight="normal" font-style="normal" fill="#111" textLength="12.5" lengthAdjust="spacingAndGlyphs" >1</text>
<text x="443.3" y="1124" font-size="24.5" text-anchor="middle" font-weight="normal" font-style="normal" fill="#111" textLength="12.5" lengthAdjust="spacingAndGlyphs" >2</text>
<text x="619.2" y="1124" font-size="24.5" text-anchor="middle" font-weight="normal" font-style="normal" fill="#111" textLength="12.5" lengthAdjust="spacingAndGlyphs" >3</text>
<text x="795.2" y="1124" font-size="24.5" text-anchor="middle" font-weight="normal" font-style="normal" fill="#111" textLength="12.5" lengthAdjust="spacingAndGlyphs" >4</text>
<text x="971.1" y="1124" font-size="24.5" text-anchor="middle" font-weight="normal" font-style="normal" fill="#111" textLength="12.5" lengthAdjust="spacingAndGlyphs" >5</text>
<text x="1147" y="1124" font-size="24.5" text-anchor="middle" font-weight="normal" font-style="normal" fill="#111" textLength="12.5" lengthAdjust="spacingAndGlyphs" >6</text>
<text x="620" y="1159.7" font-size="36" text-anchor="middle" font-weight="bold" font-style="italic" fill="#111" textLength="259" lengthAdjust="spacingAndGlyphs" >Bulk H<tspan font-size="24" dy="2">2</tspan><tspan dy="-2">O (wt%)</tspan></text>
<text transform="translate(41,566.5) rotate(-90)" font-size="36" text-anchor="middle" font-weight="bold" font-style="italic" fill="#111" textLength="81" lengthAdjust="spacingAndGlyphs">T /°C</text>
<text x="354" y="32" font-size="44" text-anchor="middle" font-weight="bold" font-style="normal" fill="#111" >A</text>
<text x="619.6" y="32" font-size="44" text-anchor="middle" font-weight="bold" font-style="normal" fill="#111" >B</text>
<text x="1146" y="30.3" font-size="37" text-anchor="end" font-weight="bold" font-style="italic" fill="#111" textLength="213" lengthAdjust="spacingAndGlyphs" >P = 11 kbar</text>
<text transform="translate(260.3,644) rotate(66.5)" font-size="34" text-anchor="middle" font-weight="bold" fill="#111" textLength="135" lengthAdjust="spacing">Solidus</text>
<path d="M145.5,874.2 h24 m5,0 h5 m5,0 h24 m5,0 h5 m5,0 h8" stroke="#111" stroke-width="5" fill="none"/>
<text x="234.3" y="884.2" font-size="28" text-anchor="start" font-weight="normal" font-style="normal" fill="#111" textLength="30" lengthAdjust="spacingAndGlyphs" >10</text>
<text x="145.5" y="910.9" font-size="29" text-anchor="start" font-weight="bold" font-style="italic" fill="#111" textLength="148" lengthAdjust="spacingAndGlyphs" >melt (wt%)</text>
<path d="M145.5,952.9 H231" stroke="#5c3d6c" stroke-width="5"/>
<rect x="232" y="941.5" width="23" height="23" fill="#fff" stroke="#5c3d6c" stroke-width="2"/>
<text x="243.5" y="961" font-size="22" text-anchor="middle" font-weight="normal" font-style="normal" fill="#5c3d6c" >3</text>
<text x="145.5" y="995.3" font-size="29" text-anchor="start" font-weight="bold" font-style="italic" fill="#5c3d6c" textLength="178" lengthAdjust="spacingAndGlyphs" >garnet (wt%)</text>
<rect x="92" y="1047" width="46" height="45" fill="#fff" stroke="#111" stroke-width="2"/>
<text x="115" y="1081" font-size="46" text-anchor="middle" font-weight="normal" font-style="normal" fill="#111" >a</text>
<text x="417.7" y="928.7" font-size="13.5" text-anchor="middle" font-weight="normal" font-style="italic" fill="#222" >Amph</text><text x="417.7" y="944.2" font-size="13.5" text-anchor="middle" font-weight="normal" font-style="italic" fill="#222" >Bt Cpx</text><text x="417.7" y="959.7" font-size="13.5" text-anchor="middle" font-weight="normal" font-style="italic" fill="#222" >Melt Pl</text><text x="417.7" y="975.2" font-size="13.5" text-anchor="middle" font-weight="normal" font-style="italic" fill="#222" >Qz</text><text x="417.7" y="990.7" font-size="13.5" text-anchor="middle" font-weight="normal" font-style="italic" fill="#222" >Sph</text>
<text x="465" y="1004" font-size="13.5" text-anchor="middle" font-weight="normal" font-style="italic" fill="#222" >Amph</text><text x="465" y="1019.5" font-size="13.5" text-anchor="middle" font-weight="normal" font-style="italic" fill="#222" >Bt Cpx</text><text x="465" y="1035" font-size="13.5" text-anchor="middle" font-weight="normal" font-style="italic" fill="#222" >Melt Qz</text><text x="465" y="1050.5" font-size="13.5" text-anchor="middle" font-weight="normal" font-style="italic" fill="#222" >Sph</text>
<g transform="translate(505.5,953.5) rotate(47.6)"><text x="4" y="-6" font-size="13.5" text-anchor="middle" font-weight="normal" font-style="italic" fill="#222" >Amph Cpx</text><text x="-4" y="10" font-size="13.5" text-anchor="middle" font-weight="normal" font-style="italic" fill="#222" >Melt Qz Sph</text></g>
<text x="836.4" y="1010.6" font-size="17.5" text-anchor="middle" font-weight="normal" font-style="italic" fill="#222" textLength="252" lengthAdjust="spacingAndGlyphs" >Amph Cpx H2O Melt Qz Sph</text>
<text x="823" y="1063" font-size="17.5" text-anchor="middle" font-weight="normal" font-style="italic" fill="#222" textLength="277" lengthAdjust="spacingAndGlyphs" >Amph Bt Cpx H2O Melt Qz Sph</text>
<text x="814.6" y="1088.2" font-size="13" text-anchor="middle" font-weight="normal" font-style="italic" fill="#222" textLength="229" lengthAdjust="spacingAndGlyphs" >Amph Bt Cpx Ep H2O Melt Qz Sph</text>
<text x="425.5" y="805" font-size="14.5" text-anchor="middle" font-weight="normal" font-style="italic" fill="#c2b2c4" >Amph Cpx</text><text x="425.5" y="819.8" font-size="14.5" text-anchor="middle" font-weight="normal" font-style="italic" fill="#c2b2c4" >Melt Pl</text><text x="425.5" y="834.6" font-size="14.5" text-anchor="middle" font-weight="normal" font-style="italic" fill="#c2b2c4" >Qz Sph</text>
<text x="1007" y="881" font-size="17.5" text-anchor="middle" font-weight="normal" font-style="italic" fill="#c0aec2" textLength="155" lengthAdjust="spacingAndGlyphs" >H2O Melt Qz Sph</text>
</g>
<g font-family="Liberation Sans, Arial, sans-serif">
<path d="M1229.3,36 L1976,36 L1976,534 L1229.3,534 Z" fill="#ffffff"/>
<path d="M1229.3,118.5 L1405.6,114.6 L1405.6,534 L1229.3,534 Z" fill="#2e6346"/>
<path d="M1229.3,129.8 C1235.9,129.5 1254.9,128.8 1268.7,127.8 C1282.5,126.8 1297.7,125.3 1312.2,123.9 C1326.7,122.5 1340.1,121.1 1355.7,119.6 C1371.3,118 1397.3,115.4 1405.6,114.6 C1411.8,113.6 1429.2,111 1442.6,108.7 C1456,106.5 1471.5,104.2 1486,101.1 C1500.5,98 1517.3,93 1529.6,90.2 C1541.9,87.4 1547.5,87.3 1560,84.5 C1572.5,81.7 1588.2,78.2 1604.5,73.4 C1620.8,68.6 1644.2,60.4 1657.9,55.6 C1671.6,50.8 1677.2,46.9 1686.9,44.5 C1696.6,42.1 1705,41.5 1715.8,41.1 C1726.5,40.7 1745.5,42.1 1751.4,42.3 C1752.8,42.8 1722.6,45 1760,45.5 C1797.4,46 1940,45.5 1976,45.5 L1976,534 L1229.3,534 Z" fill="#aed2e4"/>
<path d="M1764.8,91.2 C1771.5,90.1 1790.7,86.5 1804.8,84.5 C1818.9,82.5 1834.6,80.5 1849.4,79 C1864.2,77.5 1879.1,76.4 1893.9,75.6 C1908.7,74.8 1924.8,74.3 1938.4,73.9 C1952,73.5 1969.3,73.5 1975.5,73.4 L1975.5,534 L1764.8,534 Z" fill="#f0c77e"/>
<path d="M1229.3,143.3 C1240.9,142.9 1270.7,142.3 1299,140.9 C1327.3,139.5 1367.8,136.6 1399,134.8 C1430.2,133.1 1459.2,132.3 1486,130.4 C1512.8,128.5 1540.2,126.3 1560,123.5 C1579.8,120.7 1587.4,117.4 1604.5,113.5 C1621.6,109.6 1648.7,103.8 1662.4,100.1 C1676.1,96.4 1676.2,93.8 1686.9,91.2 C1697.7,88.6 1717.3,85.4 1726.9,84.5 C1736.5,83.6 1739.9,85.1 1744.7,85.7 C1749.5,86.3 1752.9,86.6 1755.9,87.9 C1758.9,89.2 1761.4,92.5 1762.5,93.4 C1762.9,93 1757.8,92.5 1764.8,91.2 C1771.8,89.9 1790.7,87.2 1804.8,85.7 C1818.9,84.2 1834.6,82.9 1849.4,82.3 C1864.2,81.7 1882.8,81.5 1893.9,82.3 C1905,83 1908.7,85.3 1916.1,86.8 C1923.5,88.3 1928.4,88.6 1938.4,91.2 C1948.4,93.8 1969.7,100.5 1976,102.3 L1976,534 L1229.3,534 Z" fill="#e58f29"/>
<path d="M1229.3,177 C1239.3,176.6 1261.5,175.9 1289.5,174.8 C1317.5,173.7 1379.4,171.2 1397.4,170.5 C1411.8,173 1458.6,179.5 1483.8,185.6 C1509,191.7 1526.9,200.7 1548.5,207.2 C1570.1,213.7 1595.3,220.2 1613.3,224.5 C1631.3,228.8 1644.3,230.6 1656.5,233.1 C1668.7,235.6 1681.6,238.5 1686.6,239.6 L1686.6,534 L1229.3,534 Z" fill="#c9501d"/>
<path d="M1229.3,491.3 L1401.7,514.6 C1411.8,508 1441.3,489.4 1462.2,474.9 C1483.1,460.4 1508.2,443.2 1526.9,427.4 C1545.6,411.6 1559.3,395 1574.4,379.9 C1589.5,364.8 1603.9,352.5 1617.6,336.7 C1631.3,320.9 1645,301.1 1656.5,284.9 C1668,268.7 1681.6,247.1 1686.6,239.6 C1692.4,238.5 1711.1,233.8 1721.2,233.1 C1731.3,232.4 1738.5,234.6 1747.1,235.3 C1755.7,236 1762.9,238.5 1773,237.4 C1783.1,236.3 1794.5,231 1807.5,228.8 C1820.5,226.7 1836.3,225.2 1850.7,224.5 C1865.1,223.8 1873,223.1 1893.9,224.5 C1914.8,225.9 1962.3,231.7 1976,233.1 L1976,534 L1229.3,534 Z" fill="#61476b"/>
<path d="M1410.4,534 C1419,532 1442.8,527.8 1462.2,522.3 C1481.6,516.8 1505.3,509.3 1526.9,500.7 C1548.5,492.1 1573.7,479.1 1591.7,470.5 C1609.7,461.9 1623.4,456.1 1634.9,448.9 C1646.4,441.7 1652.2,433.5 1660.8,427.4 C1669.4,421.3 1678,416.6 1686.6,412.3 C1695.2,408 1702.5,405.5 1712.6,401.5 C1722.7,397.5 1738.5,392.1 1747.1,388.5 C1755.7,384.9 1754.3,384.2 1764.4,379.9 C1774.5,375.6 1790.2,370.5 1807.5,362.6 C1824.8,354.7 1850.7,342.5 1868,332.4 C1885.3,322.3 1899.6,310.8 1911.1,302.2 C1922.6,293.6 1926.3,290.3 1937,280.6 C1947.7,270.9 1969.1,250 1975.5,243.9 L1975.5,534 L1410.4,534 Z" fill="#b093b9"/>
<path d="M1752,37 L1976,37 L1976,45.5 L1760,45.5 Z" fill="#a9c97f"/>
<path d="M1611,37 L1752,37 L1752,42.3 L1715.8,41.1 L1680,40 Z" fill="#5fd13a"/>
<path d="M1229.3,37 L1611,37 L1400,38.2 L1229.3,40.5 Z" fill="#bfa98a"/>
<g fill="none" stroke="#111" stroke-width="1.3">
<path d="M1410.4,534 C1419,532 1442.8,527.8 1462.2,522.3 C1481.6,516.8 1505.3,509.3 1526.9,500.7 C1548.5,492.1 1573.7,479.1 1591.7,470.5 C1609.7,461.9 1623.4,456.1 1634.9,448.9 C1646.4,441.7 1652.2,433.5 1660.8,427.4 C1669.4,421.3 1678,416.6 1686.6,412.3 C1695.2,408 1702.5,405.5 1712.6,401.5 C1722.7,397.5 1738.5,392.1 1747.1,388.5 C1755.7,384.9 1754.3,384.2 1764.4,379.9 C1774.5,375.6 1790.2,370.5 1807.5,362.6 C1824.8,354.7 1850.7,342.5 1868,332.4 C1885.3,322.3 1899.6,310.8 1911.1,302.2 C1922.6,293.6 1926.3,290.3 1937,280.6 C1947.7,270.9 1969.1,250 1975.5,243.9"/>
<path d="M1229.3,491.3 L1401.7,514.6 C1411.8,508 1441.3,489.4 1462.2,474.9 C1483.1,460.4 1508.2,443.2 1526.9,427.4 C1545.6,411.6 1559.3,395 1574.4,379.9 C1589.5,364.8 1603.9,352.5 1617.6,336.7 C1631.3,320.9 1645,301.1 1656.5,284.9 C1668,268.7 1681.6,247.1 1686.6,239.6 C1692.4,238.5 1711.1,233.8 1721.2,233.1 C1731.3,232.4 1738.5,234.6 1747.1,235.3 C1755.7,236 1762.9,238.5 1773,237.4 C1783.1,236.3 1794.5,231 1807.5,228.8 C1820.5,226.7 1836.3,225.2 1850.7,224.5 C1865.1,223.8 1873,223.1 1893.9,224.5 C1914.8,225.9 1962.3,231.7 1976,233.1"/>
<path d="M1229.3,177 C1239.3,176.6 1261.5,175.9 1289.5,174.8 C1317.5,173.7 1379.4,171.2 1397.4,170.5 C1411.8,173 1458.6,179.5 1483.8,185.6 C1509,191.7 1526.9,200.7 1548.5,207.2 C1570.1,213.7 1595.3,220.2 1613.3,224.5 C1631.3,228.8 1644.3,230.6 1656.5,233.1 C1668.7,235.6 1681.6,238.5 1686.6,239.6"/>
<path d="M1229.3,143.3 C1240.9,142.9 1270.7,142.3 1299,140.9 C1327.3,139.5 1367.8,136.6 1399,134.8 C1430.2,133.1 1459.2,132.3 1486,130.4 C1512.8,128.5 1540.2,126.3 1560,123.5 C1579.8,120.7 1587.4,117.4 1604.5,113.5 C1621.6,109.6 1648.7,103.8 1662.4,100.1 C1676.1,96.4 1676.2,93.8 1686.9,91.2 C1697.7,88.6 1717.3,85.4 1726.9,84.5 C1736.5,83.6 1739.9,85.1 1744.7,85.7 C1749.5,86.3 1752.9,86.6 1755.9,87.9 C1758.9,89.2 1761.4,92.5 1762.5,93.4 C1762.9,93 1757.8,92.5 1764.8,91.2 C1771.8,89.9 1790.7,87.2 1804.8,85.7 C1818.9,84.2 1834.6,82.9 1849.4,82.3 C1864.2,81.7 1882.8,81.5 1893.9,82.3 C1905,83 1908.7,85.3 1916.1,86.8 C1923.5,88.3 1928.4,88.6 1938.4,91.2 C1948.4,93.8 1969.7,100.5 1976,102.3"/>
<path d="M1764.8,91.2 C1771.5,90.1 1790.7,86.5 1804.8,84.5 C1818.9,82.5 1834.6,80.5 1849.4,79 C1864.2,77.5 1879.1,76.4 1893.9,75.6 C1908.7,74.8 1924.8,74.3 1938.4,73.9 C1952,73.5 1969.3,73.5 1975.5,73.4"/>
<path d="M1229.3,129.8 C1235.9,129.5 1254.9,128.8 1268.7,127.8 C1282.5,126.8 1297.7,125.3 1312.2,123.9 C1326.7,122.5 1340.1,121.1 1355.7,119.6 C1371.3,118 1397.3,115.4 1405.6,114.6 C1411.8,113.6 1429.2,111 1442.6,108.7 C1456,106.5 1471.5,104.2 1486,101.1 C1500.5,98 1517.3,93 1529.6,90.2 C1541.9,87.4 1547.5,87.3 1560,84.5 C1572.5,81.7 1588.2,78.2 1604.5,73.4 C1620.8,68.6 1644.2,60.4 1657.9,55.6 C1671.6,50.8 1677.2,46.9 1686.9,44.5 C1696.6,42.1 1705,41.5 1715.8,41.1 C1726.5,40.7 1745.5,42.1 1751.4,42.3 C1752.8,42.8 1722.6,45 1760,45.5 C1797.4,46 1940,45.5 1976,45.5"/>
<path d="M1229.3,118.5 L1405.6,114.6"/>
<path d="M1229.3,40.5 L1400,38.2 L1611,37"/>
</g>
<path d="M1661.3,528 L1661.3,39" stroke="#fff" stroke-width="4.5" stroke-dasharray="24 14"/>
<path d="M1752.5,528 L1752.5,39" stroke="#fff" stroke-width="4.5" stroke-dasharray="24 14"/>
<rect x="1229.3" y="36" width="746.7" height="498" fill="none" stroke="#111" stroke-width="2.5"/>
<path d="M1229.3,484.2 h5.5 M1229.3,434.4 h5.5 M1229.3,384.6 h5.5 M1229.3,334.8 h5.5 M1229.3,285 h5.5 M1229.3,235.2 h5.5 M1229.3,185.4 h5.5 M1229.3,135.6 h5.5 M1229.3,85.8 h5.5 M1304,534 v-5 M1378.6,534 v-5 M1453.3,534 v-5 M1528,534 v-5 M1602.7,534 v-5 M1677.3,534 v-5 M1752,534 v-5 M1826.7,534 v-5 M1901.3,534 v-5" stroke="#111" stroke-width="1.8"/>
<text x="1222.5" y="443.1" font-size="21.5" text-anchor="end" font-weight="normal" font-style="normal" fill="#111" textLength="23" lengthAdjust="spacingAndGlyphs" >20</text>
<text x="1222.5" y="343.5" font-size="21.5" text-anchor="end" font-weight="normal" font-style="normal" fill="#111" textLength="23" lengthAdjust="spacingAndGlyphs" >40</text>
<text x="1222.5" y="243.9" font-size="21.5" text-anchor="end" font-weight="normal" font-style="normal" fill="#111" textLength="23" lengthAdjust="spacingAndGlyphs" >60</text>
<text x="1222.5" y="144.3" font-size="21.5" text-anchor="end" font-weight="normal" font-style="normal" fill="#111" textLength="23" lengthAdjust="spacingAndGlyphs" >80</text>
<text x="1222.5" y="44.7" font-size="21.5" text-anchor="end" font-weight="normal" font-style="normal" fill="#111" textLength="34.5" lengthAdjust="spacingAndGlyphs" >100</text>
<text x="1229.3" y="556" font-size="21.5" text-anchor="middle" font-weight="normal" font-style="normal" fill="#111" textLength="36.9" lengthAdjust="spacingAndGlyphs" >650</text>
<text x="1378.6" y="556" font-size="21.5" text-anchor="middle" font-weight="normal" font-style="normal" fill="#111" textLength="36.9" lengthAdjust="spacingAndGlyphs" >740</text>
<text x="1528" y="556" font-size="21.5" text-anchor="middle" font-weight="normal" font-style="normal" fill="#111" textLength="36.9" lengthAdjust="spacingAndGlyphs" >830</text>
<text x="1677.3" y="556" font-size="21.5" text-anchor="middle" font-weight="normal" font-style="normal" fill="#111" textLength="36.9" lengthAdjust="spacingAndGlyphs" >920</text>
<text x="1826.7" y="556" font-size="21.5" text-anchor="middle" font-weight="normal" font-style="normal" fill="#111" textLength="49.2" lengthAdjust="spacingAndGlyphs" >1010</text>
<text x="1956.5" y="556" font-size="21.5" text-anchor="middle" font-weight="normal" font-style="normal" fill="#111" textLength="49.2" lengthAdjust="spacingAndGlyphs" >1100</text>
<text x="1228" y="28.5" font-size="35" text-anchor="start" font-weight="bold" font-style="italic" fill="#111" textLength="454" lengthAdjust="spacingAndGlyphs" >Case A: 1.5 wt% bulk H<tspan font-size="24" dy="2">2</tspan><tspan dy="-2">O</tspan></text>
<text transform="translate(1189,288) rotate(-90)" font-size="31" text-anchor="middle" font-weight="bold" font-style="italic" fill="#111" textLength="205" lengthAdjust="spacingAndGlyphs">Proportion (%)</text>
<text x="1405" y="84" font-size="34" text-anchor="middle" font-weight="bold" font-style="italic" fill="#111" textLength="41" lengthAdjust="spacingAndGlyphs" >Qz</text>
<text x="1399.5" y="341" font-size="34" text-anchor="middle" font-weight="bold" font-style="italic" fill="#111" textLength="99" lengthAdjust="spacingAndGlyphs" >Amph</text>
<text x="1576.5" y="455" font-size="34" text-anchor="middle" font-weight="bold" font-style="italic" fill="#fff" textLength="52" lengthAdjust="spacingAndGlyphs" >Grt</text>
<text x="1877.5" y="449" font-size="34" text-anchor="middle" font-weight="bold" font-style="italic" fill="#111" textLength="71" lengthAdjust="spacingAndGlyphs" >Melt</text>
<text x="1883" y="172.5" font-size="34" text-anchor="middle" font-weight="bold" font-style="italic" fill="#111" textLength="65" lengthAdjust="spacingAndGlyphs" >Cpx</text>
<text x="1844" y="75.5" font-size="34" text-anchor="middle" font-weight="bold" font-style="italic" fill="#111" textLength="35" lengthAdjust="spacingAndGlyphs" >Pl</text>
<text x="1274.4" y="103.5" font-size="20" text-anchor="middle" font-weight="bold" font-style="italic" fill="#111" textLength="21" lengthAdjust="spacingAndGlyphs" >bi</text>
<text x="1594" y="67" font-size="20" text-anchor="middle" font-weight="bold" font-style="italic" fill="#111" textLength="26" lengthAdjust="spacingAndGlyphs" >Rt</text>
<text x="1952" y="67" font-size="20" text-anchor="middle" font-weight="bold" font-style="italic" fill="#111" textLength="34" lengthAdjust="spacingAndGlyphs" >ilm</text>
<text x="1691" y="82" font-size="29" text-anchor="middle" font-weight="bold" font-style="italic" fill="#111" textLength="56" lengthAdjust="spacingAndGlyphs" >10%</text>
<text x="1775" y="77.7" font-size="29" text-anchor="middle" font-weight="bold" font-style="italic" fill="#111" textLength="35" lengthAdjust="spacingAndGlyphs" >9%</text>
<text x="1695" y="177" font-size="29" text-anchor="middle" font-weight="bold" font-style="italic" fill="#111" textLength="56" lengthAdjust="spacingAndGlyphs" >27%</text>
<text x="1788" y="174.8" font-size="29" text-anchor="middle" font-weight="bold" font-style="italic" fill="#111" textLength="56" lengthAdjust="spacingAndGlyphs" >30%</text>
<text x="1695" y="356" font-size="29" text-anchor="middle" font-weight="bold" font-style="italic" fill="#fff" textLength="56" lengthAdjust="spacingAndGlyphs" >31%</text>
<text x="1788" y="315" font-size="29" text-anchor="middle" font-weight="bold" font-style="italic" fill="#fff" textLength="56" lengthAdjust="spacingAndGlyphs" >30%</text>
<text x="1695" y="490" font-size="29" text-anchor="middle" font-weight="bold" font-style="italic" fill="#111" textLength="56" lengthAdjust="spacingAndGlyphs" >20%</text>
<text x="1788" y="470.5" font-size="29" text-anchor="middle" font-weight="bold" font-style="italic" fill="#111" textLength="56" lengthAdjust="spacingAndGlyphs" >30%</text>
<path d="M1272,107 q3,3 0,6 q-3,3 0,6" fill="none" stroke="#111" stroke-width="1.3"/><path d="M1266,121 L1272,113 L1276,121 Z" fill="#111"/>
<path d="M1604,48 q-3,-3 0,-5 q3,-3 6,-4 L1618,38" fill="none" stroke="#111" stroke-width="1.3"/><path d="M1612,35 L1620,38 L1612,41 Z" fill="#111"/>
<path d="M1955,51 q-3,-3 0,-5 q3,-3 6,-4 L1972,42" fill="none" stroke="#111" stroke-width="1.3"/><path d="M1966,39 L1974,42 L1966,45 Z" fill="#111"/>
<rect x="1930.5" y="489" width="45" height="45" fill="#fff" stroke="#111" stroke-width="2"/>
<text x="1953" y="526" font-size="46" text-anchor="middle" font-weight="normal" font-style="normal" fill="#111" >b</text>
</g>
<g font-family="Liberation Sans, Arial, sans-serif">
<path d="M1229.3,606 L1976,606 L1976,1102.5 L1229.3,1102.5 Z" fill="#ffffff"/>
<path d="M1229.3,696.6 L1259.3,685.2 L1229.3,702.8 Z" fill="#2e6346"/>
<path d="M1229.3,696.6 L1259.3,685.2 C1265.5,683.8 1287.3,679.5 1296.6,677 C1305.9,674.5 1312.1,671.4 1315.2,670.3 C1320,669.7 1332.5,668.1 1344.2,666.6 C1355.9,665.1 1371.8,663.3 1385.6,661.4 C1399.4,659.5 1411.5,657.4 1427,655.2 C1442.5,653 1468.4,650.1 1478.8,648.4 C1489.2,646.7 1482.3,646.5 1489.2,644.9 C1496.1,643.3 1508.1,641.6 1520.2,638.7 C1532.3,635.8 1546.8,631.4 1561.6,627.3 C1576.4,623.1 1598.4,617.2 1609.2,613.8 C1620,610.4 1623.4,608.1 1626.2,607 C1634.8,607.2 1662.2,607.3 1678,608.3 C1693.8,609.2 1699.6,611.5 1721.2,612.7 C1742.8,613.9 1785.9,614.7 1807.5,615.3 C1829.1,615.9 1836.3,615.4 1850.7,616.2 C1865.1,617.1 1879.5,617.9 1893.9,620.4 C1908.3,622.9 1926.9,628.5 1937,631.2 C1947.1,633.9 1951.4,635.9 1954.3,636.8 L1976,634.2 L1976,1102.5 L1229.3,1102.5 Z" fill="#e58f29"/>
<path d="M1870,616 L1976,615.5 L1976,634.2 L1954.3,636.8 C1951.4,635.9 1947.1,633.9 1937,631.2 C1926.9,628.5 1901.1,622.2 1893.9,620.4 Z" fill="#f0c77e"/>
<path d="M1626.2,607 L1976,607 L1976,615.5 L1850.7,616.2 L1807.5,615.3 L1721.2,612.7 L1678,608.3 Z" fill="#a9c97f"/>
<path d="M1229.3,730.8 L1259.3,704.9 C1265.5,703.5 1287.3,699.2 1296.6,696.6 C1305.9,694 1312.1,690.6 1315.2,689.4 C1320,689.5 1332.5,689.5 1344.2,689.8 C1355.9,690.1 1371.8,690.7 1385.6,691.4 C1399.4,692.1 1411.5,693 1427,693.9 C1442.5,694.8 1468.4,695.7 1478.8,696.6 C1489.2,697.5 1482.3,698.3 1489.2,699.3 C1496.1,700.3 1506.4,701 1520.2,702.8 C1534,704.6 1560.1,708.6 1572,710 C1583.9,711.4 1581.2,709.5 1591.7,711.1 C1602.2,712.7 1620.5,716.5 1634.9,719.7 C1649.3,722.9 1663.6,726.5 1678,730.5 C1692.4,734.5 1706.8,739.9 1721.2,743.5 C1735.6,747.1 1754.3,750.2 1764.4,752.1 C1774.5,754 1778.7,754.6 1781.6,755.1 L1781.6,1102.5 L1229.3,1102.5 Z" fill="#c9501d"/>
<path d="M1293.8,1071.5 L1319.7,1050 C1329,1045.7 1356.4,1033.7 1375.8,1024 C1395.2,1014.3 1418.3,1002.1 1436.3,991.7 C1454.3,981.3 1469.4,972.3 1483.8,961.5 C1498.2,950.7 1508.2,940.6 1522.6,926.9 C1537,913.2 1555.7,894.5 1570.1,879.4 C1584.5,864.3 1599.7,847.4 1609,836.3 C1618.3,825.1 1623.3,816.5 1626.2,812.5 C1631.2,811.1 1644.2,807.9 1656.4,803.9 C1668.6,799.9 1688.8,792.8 1699.6,788.8 C1710.4,784.8 1714,783.1 1721.2,780.2 C1728.4,777.3 1732.7,775.7 1742.8,771.5 C1752.9,767.3 1775.1,757.8 1781.6,755.1 C1789.5,755 1814,754.6 1829.1,754.3 C1844.2,754 1857.9,752.3 1872.3,753.4 C1886.7,754.5 1902.5,758.2 1915.4,760.7 C1928.4,763.2 1944.2,766.9 1950,768.1 L1976,762.9 L1976,1102.5 L1293.8,1102.5 Z" fill="#61476b"/>
<path d="M1229.3,1101.5 C1235,1098.7 1252.8,1089.5 1263.6,1084.5 C1274.3,1079.5 1288.8,1073.7 1293.8,1071.5 L1315.4,1060.8 C1325.5,1058.6 1348.5,1054.3 1375.8,1047.8 C1403.1,1041.3 1454.9,1029.8 1479.4,1021.9 C1503.9,1014 1507.5,1008.2 1522.6,1000.3 C1537.7,992.4 1555.7,983 1570.1,974.4 C1584.5,965.8 1602.5,952.8 1609,948.5 C1611.9,947.4 1616.1,944.9 1626.2,942 C1636.3,939.1 1653.6,936 1669.4,931.3 C1685.2,926.6 1705.4,919.8 1721.2,914 C1737,908.2 1750,902.8 1764.4,896.7 C1778.8,890.6 1793.1,885.2 1807.5,877.3 C1821.9,869.4 1836.3,859.6 1850.7,849.2 C1865.1,838.8 1881,825.5 1893.9,814.7 C1906.9,803.9 1918.3,792.4 1928.4,784.5 C1938.5,776.6 1950,770.1 1954.3,767.2 L1976,760.7 L1976,1102.5 L1229.3,1102.5 Z" fill="#b093b9"/>
<path d="M1229.3,611 L1300,609 L1400,607.5 L1500,607 L1400,609.5 L1300,611.5 L1229.3,616 Z" fill="#bfa98a"/>
<path d="M1229.3,607 L1300,607 L1229.3,611 Z" fill="#cfe8d0"/>
<g fill="none" stroke="#111" stroke-width="1.3">
<path d="M1229.3,1101.5 C1235,1098.7 1252.8,1089.5 1263.6,1084.5 C1274.3,1079.5 1288.8,1073.7 1293.8,1071.5 L1315.4,1060.8 C1325.5,1058.6 1348.5,1054.3 1375.8,1047.8 C1403.1,1041.3 1454.9,1029.8 1479.4,1021.9 C1503.9,1014 1507.5,1008.2 1522.6,1000.3 C1537.7,992.4 1555.7,983 1570.1,974.4 C1584.5,965.8 1602.5,952.8 1609,948.5 C1611.9,947.4 1616.1,944.9 1626.2,942 C1636.3,939.1 1653.6,936 1669.4,931.3 C1685.2,926.6 1705.4,919.8 1721.2,914 C1737,908.2 1750,902.8 1764.4,896.7 C1778.8,890.6 1793.1,885.2 1807.5,877.3 C1821.9,869.4 1836.3,859.6 1850.7,849.2 C1865.1,838.8 1881,825.5 1893.9,814.7 C1906.9,803.9 1918.3,792.4 1928.4,784.5 C1938.5,776.6 1950,770.1 1954.3,767.2 L1976,760.7"/>
<path d="M1293.8,1071.5 L1319.7,1050 C1329,1045.7 1356.4,1033.7 1375.8,1024 C1395.2,1014.3 1418.3,1002.1 1436.3,991.7 C1454.3,981.3 1469.4,972.3 1483.8,961.5 C1498.2,950.7 1508.2,940.6 1522.6,926.9 C1537,913.2 1555.7,894.5 1570.1,879.4 C1584.5,864.3 1599.7,847.4 1609,836.3 C1618.3,825.1 1623.3,816.5 1626.2,812.5 C1631.2,811.1 1644.2,807.9 1656.4,803.9 C1668.6,799.9 1688.8,792.8 1699.6,788.8 C1710.4,784.8 1714,783.1 1721.2,780.2 C1728.4,777.3 1732.7,775.7 1742.8,771.5 C1752.9,767.3 1775.1,757.8 1781.6,755.1 C1789.5,755 1814,754.6 1829.1,754.3 C1844.2,754 1857.9,752.3 1872.3,753.4 C1886.7,754.5 1902.5,758.2 1915.4,760.7 C1928.4,763.2 1944.2,766.9 1950,768.1 L1976,762.9"/>
<path d="M1229.3,730.8 L1259.3,704.9 C1265.5,703.5 1287.3,699.2 1296.6,696.6 C1305.9,694 1312.1,690.6 1315.2,689.4 C1320,689.5 1332.5,689.5 1344.2,689.8 C1355.9,690.1 1371.8,690.7 1385.6,691.4 C1399.4,692.1 1411.5,693 1427,693.9 C1442.5,694.8 1468.4,695.7 1478.8,696.6 C1489.2,697.5 1482.3,698.3 1489.2,699.3 C1496.1,700.3 1506.4,701 1520.2,702.8 C1534,704.6 1560.1,708.6 1572,710 C1583.9,711.4 1581.2,709.5 1591.7,711.1 C1602.2,712.7 1620.5,716.5 1634.9,719.7 C1649.3,722.9 1663.6,726.5 1678,730.5 C1692.4,734.5 1706.8,739.9 1721.2,743.5 C1735.6,747.1 1754.3,750.2 1764.4,752.1 C1774.5,754 1778.7,754.6 1781.6,755.1"/>
<path d="M1229.3,696.6 L1259.3,685.2 C1265.5,683.8 1287.3,679.5 1296.6,677 C1305.9,674.5 1312.1,671.4 1315.2,670.3 C1320,669.7 1332.5,668.1 1344.2,666.6 C1355.9,665.1 1371.8,663.3 1385.6,661.4 C1399.4,659.5 1411.5,657.4 1427,655.2 C1442.5,653 1468.4,650.1 1478.8,648.4 C1489.2,646.7 1482.3,646.5 1489.2,644.9 C1496.1,643.3 1508.1,641.6 1520.2,638.7 C1532.3,635.8 1546.8,631.4 1561.6,627.3 C1576.4,623.1 1598.4,617.2 1609.2,613.8 C1620,610.4 1623.4,608.1 1626.2,607 C1634.8,607.2 1662.2,607.3 1678,608.3 C1693.8,609.2 1699.6,611.5 1721.2,612.7 C1742.8,613.9 1785.9,614.7 1807.5,615.3 C1829.1,615.9 1836.3,615.4 1850.7,616.2 C1865.1,617.1 1879.5,617.9 1893.9,620.4 C1908.3,622.9 1926.9,628.5 1937,631.2 C1947.1,633.9 1951.4,635.9 1954.3,636.8 L1976,634.2"/>
<path d="M1229.3,702.8 L1259.3,685.2"/>
<path d="M1850.7,616.2 L1976,615.5"/>
<path d="M1229.3,616 L1300,611.5 L1400,609.5 L1500,607"/>
</g>
<path d="M1522.7,1097.5 L1522.7,608" stroke="#fff" stroke-width="4.5" stroke-dasharray="24 14"/>
<path d="M1611.9,1097.5 L1611.9,608" stroke="#fff" stroke-width="4.5" stroke-dasharray="24 14"/>
<rect x="1229.3" y="606" width="746.7" height="496.5" fill="none" stroke="#111" stroke-width="2.5"/>
<path d="M1229.3,1052.8 h5.5 M1229.3,1003.2 h5.5 M1229.3,953.5 h5.5 M1229.3,903.9 h5.5 M1229.3,854.2 h5.5 M1229.3,804.6 h5.5 M1229.3,755 h5.5 M1229.3,705.3 h5.5 M1229.3,655.6 h5.5 M1304,1102.5 v-5 M1378.6,1102.5 v-5 M1453.3,1102.5 v-5 M1528,1102.5 v-5 M1602.7,1102.5 v-5 M1677.3,1102.5 v-5 M1752,1102.5 v-5 M1826.7,1102.5 v-5 M1901.3,1102.5 v-5" stroke="#111" stroke-width="1.8"/>
<text x="1222.5" y="1011.9" font-size="21.5" text-anchor="end" font-weight="normal" font-style="normal" fill="#111" textLength="23" lengthAdjust="spacingAndGlyphs" >20</text>
<text x="1222.5" y="912.6" font-size="21.5" text-anchor="end" font-weight="normal" font-style="normal" fill="#111" textLength="23" lengthAdjust="spacingAndGlyphs" >40</text>
<text x="1222.5" y="813.3" font-size="21.5" text-anchor="end" font-weight="normal" font-style="normal" fill="#111" textLength="23" lengthAdjust="spacingAndGlyphs" >60</text>
<text x="1222.5" y="714" font-size="21.5" text-anchor="end" font-weight="normal" font-style="normal" fill="#111" textLength="23" lengthAdjust="spacingAndGlyphs" >80</text>
<text x="1222.5" y="614.7" font-size="21.5" text-anchor="end" font-weight="normal" font-style="normal" fill="#111" textLength="34.5" lengthAdjust="spacingAndGlyphs" >100</text>
<text x="1229.3" y="1127.7" font-size="21.5" text-anchor="middle" font-weight="normal" font-style="normal" fill="#111" textLength="36.9" lengthAdjust="spacingAndGlyphs" >650</text>
<text x="1378.6" y="1127.7" font-size="21.5" text-anchor="middle" font-weight="normal" font-style="normal" fill="#111" textLength="36.9" lengthAdjust="spacingAndGlyphs" >740</text>
<text x="1528" y="1127.7" font-size="21.5" text-anchor="middle" font-weight="normal" font-style="normal" fill="#111" textLength="36.9" lengthAdjust="spacingAndGlyphs" >830</text>
<text x="1677.3" y="1127.7" font-size="21.5" text-anchor="middle" font-weight="normal" font-style="normal" fill="#111" textLength="36.9" lengthAdjust="spacingAndGlyphs" >920</text>
<text x="1826.7" y="1127.7" font-size="21.5" text-anchor="middle" font-weight="normal" font-style="normal" fill="#111" textLength="49.2" lengthAdjust="spacingAndGlyphs" >1010</text>
<text x="1956.5" y="1127.7" font-size="21.5" text-anchor="middle" font-weight="normal" font-style="normal" fill="#111" textLength="49.2" lengthAdjust="spacingAndGlyphs" >1100</text>
<text x="1228" y="598.5" font-size="35" text-anchor="start" font-weight="bold" font-style="italic" fill="#111" textLength="454" lengthAdjust="spacingAndGlyphs" >Case B: 3.0 wt% bulk H<tspan font-size="24" dy="2">2</tspan><tspan dy="-2">O</tspan></text>
<text transform="translate(1189,855) rotate(-90)" font-size="31" text-anchor="middle" font-weight="bold" font-style="italic" fill="#111" textLength="209" lengthAdjust="spacingAndGlyphs">Proportion (%)</text>
<text x="1590" y="1157" font-size="31" text-anchor="middle" font-weight="bold" font-style="italic" fill="#111" textLength="238" lengthAdjust="spacingAndGlyphs" >Temperature (°C)</text>
<text x="1289.5" y="657" font-size="34" text-anchor="middle" font-weight="bold" font-style="italic" fill="#111" textLength="43" lengthAdjust="spacingAndGlyphs" >Qz</text>
<text x="1360.7" y="860" font-size="34" text-anchor="middle" font-weight="bold" font-style="italic" fill="#111" textLength="99" lengthAdjust="spacingAndGlyphs" >Amph</text>
<text x="1775" y="834" font-size="34" text-anchor="middle" font-weight="bold" font-style="italic" fill="#fff" textLength="52" lengthAdjust="spacingAndGlyphs" >Grt</text>
<text x="1854" y="1004.6" font-size="34" text-anchor="middle" font-weight="bold" font-style="italic" fill="#111" textLength="71" lengthAdjust="spacingAndGlyphs" >Melt</text>
<text x="1860.4" y="696" font-size="34" text-anchor="middle" font-weight="bold" font-style="italic" fill="#111" textLength="63" lengthAdjust="spacingAndGlyphs" >Cpx</text>
<text x="1814" y="640" font-size="20" text-anchor="middle" font-weight="bold" font-style="italic" fill="#111" textLength="35" lengthAdjust="spacingAndGlyphs" >ilm</text>
<text x="1931.6" y="657" font-size="20" text-anchor="middle" font-weight="bold" font-style="italic" fill="#111" textLength="45" lengthAdjust="spacingAndGlyphs" >Opx</text>
<text x="1545" y="631" font-size="22" text-anchor="middle" font-weight="bold" font-style="italic" fill="#111" textLength="32" lengthAdjust="spacingAndGlyphs" >7%</text>
<text x="1557" y="678.7" font-size="29" text-anchor="middle" font-weight="bold" font-style="italic" fill="#111" textLength="56" lengthAdjust="spacingAndGlyphs" >13%</text>
<text x="1648" y="678.7" font-size="29" text-anchor="middle" font-weight="bold" font-style="italic" fill="#111" textLength="56" lengthAdjust="spacingAndGlyphs" >21%</text>
<text x="1648" y="778" font-size="29" text-anchor="middle" font-weight="bold" font-style="italic" fill="#111" textLength="56" lengthAdjust="spacingAndGlyphs" >23%</text>
<text x="1557" y="819" font-size="29" text-anchor="middle" font-weight="bold" font-style="italic" fill="#111" textLength="56" lengthAdjust="spacingAndGlyphs" >44%</text>
<text x="1648" y="896.7" font-size="29" text-anchor="middle" font-weight="bold" font-style="italic" fill="#fff" textLength="56" lengthAdjust="spacingAndGlyphs" >25%</text>
<text x="1557" y="968" font-size="29" text-anchor="middle" font-weight="bold" font-style="italic" fill="#fff" textLength="56" lengthAdjust="spacingAndGlyphs" >16%</text>
<text x="1648" y="1039.2" font-size="29" text-anchor="middle" font-weight="bold" font-style="italic" fill="#111" textLength="56" lengthAdjust="spacingAndGlyphs" >30%</text>
<text x="1557" y="1060.8" font-size="29" text-anchor="middle" font-weight="bold" font-style="italic" fill="#111" textLength="56" lengthAdjust="spacingAndGlyphs" >20%</text>
<path d="M1818,620 q-3,-3 0,-5 q3,-3 6,-4 L1834,610" fill="none" stroke="#111" stroke-width="1.3"/><path d="M1828,607 L1836,610 L1828,613 Z" fill="#111"/>
<path d="M1931,640 q-3,-3 0,-5 q3,-3 2,-8 L1934,621" fill="none" stroke="#111" stroke-width="1.3"/><path d="M1930,626 L1934,617 L1938,626 Z" fill="#111"/>
<rect x="1930.5" y="1058.6" width="45.5" height="44" fill="#fff" stroke="#111" stroke-width="2"/>
<text x="1953" y="1095" font-size="46" text-anchor="middle" font-weight="normal" font-style="normal" fill="#111" >c</text>
</g>
<g font-family="Liberation Sans, Arial, sans-serif">
<path d="M591,1408.6 C600.9,1405.8 612.8,1414.1 626.7,1415.7 C640.6,1417.3 658.4,1418.1 674.3,1418.1 C690.2,1418.1 706,1415.7 721.9,1415.7 C737.8,1415.7 755.6,1416.1 769.5,1418.1 C783.4,1420.1 795.3,1423.6 805.2,1427.6 C815.1,1431.6 822.2,1436 829,1441.9 C835.8,1447.9 839.7,1457 845.7,1463.3 C851.7,1469.6 860.4,1474 864.8,1480 C869.2,1486 869.5,1491.8 871.9,1499 C874.3,1506.2 875.8,1514.2 879,1522.9 C882.2,1531.6 887,1541.5 891,1551.4 C895,1561.3 900.9,1575.2 902.9,1582.4 C904.9,1589.6 905.3,1588.3 902.9,1594.3 C900.5,1600.2 895,1610.2 888.6,1618.1 C882.2,1626 872.7,1635.2 864.8,1641.9 C856.9,1648.7 849,1652.6 841,1658.6 C833,1664.5 825.1,1672 817.1,1677.6 C809.1,1683.1 801.2,1687.5 793.3,1691.9 C785.4,1696.3 779.4,1701 769.5,1703.8 C759.6,1706.6 745.7,1707.8 733.8,1708.6 C721.9,1709.4 708,1709 698.1,1708.6 C688.2,1708.2 682.2,1707.4 674.3,1706.2 C666.4,1705 660.4,1703.4 650.5,1701.4 C640.6,1699.4 626.7,1698.3 614.8,1694.3 C602.9,1690.3 588.9,1683.5 579,1677.6 C569.1,1671.6 563.1,1665.3 555.2,1658.6 C547.3,1651.8 538.1,1644.6 531.4,1637.1 C524.7,1629.5 519.2,1621.6 514.8,1613.3 C510.4,1605 508,1598.2 505.2,1587.1 C502.4,1576 498.9,1556.6 498.1,1546.7 C497.3,1536.8 497.7,1534.3 500.5,1527.6 C503.3,1520.8 509.6,1513.7 514.8,1506.2 C519.9,1498.7 524.7,1491.5 531.4,1482.4 C538.1,1473.3 549.2,1459.7 555.2,1451.4 C561.2,1443.1 561.1,1439.5 567.1,1432.4 C573.1,1425.3 581.1,1411.4 591,1408.6 Z" fill="#d3e6d6"/>
<path d="M531.4,1534.8 C534.6,1526.9 542.6,1520.1 550.5,1511 C558.4,1501.9 570.3,1488.7 579,1480 C587.7,1471.3 593,1463.8 602.9,1458.6 C612.8,1453.4 626.7,1451.2 638.6,1449 C650.5,1446.8 662.4,1446.1 674.3,1445.5 C686.2,1444.9 698.1,1445.3 710,1445.5 C721.9,1445.7 733.8,1445.3 745.7,1446.7 C757.6,1448.1 771.5,1450.2 781.4,1453.8 C791.3,1457.4 798.1,1462.9 805.2,1468.1 C812.4,1473.3 818.3,1478.4 824.3,1484.8 C830.3,1491.2 837.4,1499.1 841,1506.2 C844.6,1513.3 845.3,1520.1 845.7,1527.6 C846.1,1535.1 842.5,1543.5 843.3,1551.4 C844.1,1559.3 850.1,1568.1 850.5,1575.2 C850.9,1582.3 849.3,1587.2 845.7,1594.3 C842.1,1601.4 835.8,1610.2 829,1618.1 C822.2,1626 813.1,1634.8 805.2,1641.9 C797.3,1649.1 789.3,1655.5 781.4,1661 C773.5,1666.5 767.5,1671.2 757.6,1675.2 C747.7,1679.2 733.8,1682.8 721.9,1684.8 C710,1686.8 698.1,1687.5 686.2,1687.1 C674.3,1686.7 662.4,1684.4 650.5,1682.4 C638.6,1680.4 626.7,1678.8 614.8,1675.2 C602.9,1671.6 588.9,1667.3 579,1661 C569.1,1654.7 561.2,1645 555.2,1637.1 C549.2,1629.1 546.9,1622.4 543.3,1613.3 C539.7,1604.2 535.8,1591.5 533.8,1582.4 C531.8,1573.3 531.8,1566.5 531.4,1558.6 C531,1550.7 528.2,1542.7 531.4,1534.8 Z" fill="#b4d4b6"/>
<path d="M571.9,1534.8 C575.5,1529.2 583.9,1520 591,1513.3 C598.1,1506.5 604.9,1499.8 614.8,1494.3 C624.7,1488.8 638.6,1483.4 650.5,1480 C662.4,1476.6 674.3,1475.2 686.2,1474 C698.1,1472.8 710,1472.3 721.9,1472.9 C733.8,1473.5 747.7,1475.2 757.6,1477.6 C767.5,1480 774.6,1482.7 781.4,1487.1 C788.1,1491.5 792.9,1497.8 798.1,1503.8 C803.3,1509.8 809.2,1515.8 812.4,1522.9 C815.6,1530.1 816.3,1538.8 817.1,1546.7 C817.9,1554.6 818.3,1562.6 817.1,1570.5 C815.9,1578.4 814,1586.4 810,1594.3 C806,1602.2 800,1611 793.3,1618.1 C786.5,1625.2 777.4,1631.5 769.5,1637.1 C761.6,1642.6 755.6,1647.4 745.7,1651.4 C735.8,1655.4 721.9,1659 710,1661 C698.1,1663 686.2,1663.7 674.3,1663.3 C662.4,1662.9 649.7,1661.8 638.6,1658.6 C627.5,1655.4 616.3,1650.2 607.6,1644.3 C598.9,1638.3 591.8,1630.5 586.2,1622.9 C580.7,1615.4 577.1,1607.7 574.3,1599 C571.5,1590.3 570.3,1579.2 569.5,1570.5 C568.7,1561.8 569.1,1552.7 569.5,1546.7 C569.9,1540.8 568.3,1540.4 571.9,1534.8 Z" fill="#98c59b"/>
<path d="M598.1,1534.8 C603.3,1526.5 616,1515.3 626.7,1508.6 C637.4,1501.8 650.5,1497.1 662.4,1494.3 C674.3,1491.5 686.2,1491.9 698.1,1491.9 C710,1491.9 721.9,1491.9 733.8,1494.3 C745.7,1496.7 759.6,1500.7 769.5,1506.2 C779.4,1511.8 788.1,1518.9 793.3,1527.6 C798.5,1536.3 800.5,1548.3 800.5,1558.6 C800.5,1568.9 797.7,1580.4 793.3,1589.5 C788.9,1598.6 782.2,1606.1 774.3,1613.3 C766.4,1620.5 756.4,1627.6 745.7,1632.4 C735,1637.2 721.9,1640.3 710,1641.9 C698.1,1643.5 686.2,1643.5 674.3,1641.9 C662.4,1640.3 648.5,1637.2 638.6,1632.4 C628.7,1627.6 621.1,1620.8 614.8,1613.3 C608.4,1605.8 603.7,1596.2 600.5,1587.1 C597.3,1578 596.1,1567.3 595.7,1558.6 C595.3,1549.9 592.9,1543.1 598.1,1534.8 Z" fill="#7bb87e"/>
<path d="M617.1,1546.7 C620.7,1539.9 629.1,1533.2 638.6,1527.6 C648.1,1522 662.4,1516.1 674.3,1513.3 C686.2,1510.5 698.1,1510.2 710,1511 C721.9,1511.8 735.8,1514.1 745.7,1518.1 C755.6,1522.1 763.5,1527.6 769.5,1534.8 C775.5,1542 780.2,1552.3 781.4,1561 C782.6,1569.7 780.3,1579.2 776.7,1587.1 C773.1,1595 767.1,1603 760,1608.6 C752.9,1614.2 744.1,1617.7 733.8,1620.5 C723.5,1623.3 710,1625.2 698.1,1625.2 C686.2,1625.2 672.7,1623.7 662.4,1620.5 C652.1,1617.3 643,1612.2 636.2,1606.2 C629.5,1600.2 625.1,1591.1 621.9,1584.8 C618.7,1578.5 617.9,1574.6 617.1,1568.3 C616.3,1562 613.5,1553.5 617.1,1546.7 Z" fill="#5aa95e"/>
<path d="M638.6,1546.7 C641.8,1539.6 652.5,1535.6 662.4,1532.4 C672.3,1529.2 686.2,1527.6 698.1,1527.6 C710,1527.6 723.9,1529.2 733.8,1532.4 C743.7,1535.6 752,1541.2 757.6,1546.7 C763.2,1552.2 766.3,1559.4 767.1,1565.7 C767.9,1572 766,1579.2 762.4,1584.8 C758.8,1590.3 752.5,1595.4 745.7,1599 C739,1602.6 731.8,1605 721.9,1606.2 C712,1607.4 696.1,1608.2 686.2,1606.2 C676.3,1604.2 669.5,1599.5 662.4,1594.3 C655.2,1589.1 647.3,1583.1 643.3,1575.2 C639.3,1567.3 635.4,1553.8 638.6,1546.7 Z" fill="#3a9a40"/>
<path d="M662.4,1556.2 C666,1551.4 676.3,1544.3 686.2,1541.9 C696.1,1539.5 712,1539.5 721.9,1541.9 C731.8,1544.3 740.5,1550.7 745.7,1556.2 C750.9,1561.8 753.7,1569.2 752.9,1575.2 C752.1,1581.2 748.1,1588.3 741,1591.9 C733.9,1595.5 720.3,1597.5 710,1596.7 C699.7,1595.9 686.5,1591.5 679,1587.1 C671.5,1582.7 667.6,1575.7 664.8,1570.5 C662,1565.3 658.8,1561 662.4,1556.2 Z" fill="#218a28"/>
<path d="M667.1,1551.4 C669.1,1546.2 679.1,1541.1 686.2,1539.5 C693.4,1537.9 703.2,1539.5 710,1541.9 C716.8,1544.3 724.7,1549 726.7,1553.8 C728.7,1558.6 726.7,1566.5 721.9,1570.5 C717.1,1574.5 706,1577.6 698.1,1577.6 C690.2,1577.6 679.5,1574.9 674.3,1570.5 C669.1,1566.1 665.1,1556.6 667.1,1551.4 Z" fill="#0b7b13"/>
<ellipse cx="703" cy="1562" rx="67" ry="47" transform="rotate(8 703 1562)" fill="none" stroke="#fff" stroke-width="3.5" stroke-dasharray="14 8"/>
<path d="M346,1618.7 L407.3,1657.3 L514.9,1706.4 L608.7,1728.3 L681.4,1732.4 L745.7,1718 L819.5,1700.2 L866,1664.5 L846.9,1605 L816.4,1536.7" fill="none" stroke="#d62728" stroke-width="3" stroke-linejoin="round"/><circle cx="346" cy="1618.7" r="5.5" fill="#fff" stroke="#d62728" stroke-width="2"/><circle cx="407.3" cy="1657.3" r="5.5" fill="#fff" stroke="#d62728" stroke-width="2"/><circle cx="514.9" cy="1706.4" r="5.5" fill="#fff" stroke="#d62728" stroke-width="2"/><circle cx="608.7" cy="1728.3" r="5.5" fill="#fff" stroke="#d62728" stroke-width="2"/><circle cx="681.4" cy="1732.4" r="5.5" fill="#fff" stroke="#d62728" stroke-width="2"/><circle cx="745.7" cy="1718" r="5.5" fill="#fff" stroke="#d62728" stroke-width="2"/><circle cx="819.5" cy="1700.2" r="5.5" fill="#fff" stroke="#d62728" stroke-width="2"/><circle cx="866" cy="1664.5" r="5.5" fill="#fff" stroke="#d62728" stroke-width="2"/><circle cx="846.9" cy="1605" r="5.5" fill="#fff" stroke="#d62728" stroke-width="2"/><circle cx="816.4" cy="1536.7" r="5.5" fill="#fff" stroke="#d62728" stroke-width="2"/>
<path d="M775.5,1495.5 L801.7,1558.1 L821.9,1620 L811.9,1683.6 L788.6,1706.2 L767.1,1718.1 L736.2,1725.2 L688.6,1731.2 L660,1732.4 L626.7,1732.4" fill="none" stroke="#ff7f0e" stroke-width="4.5" stroke-linejoin="round"/><rect x="770" y="1490" width="11" height="11" fill="#fff" stroke="#ff7f0e" stroke-width="2.5"/><rect x="796.2" y="1552.6" width="11" height="11" fill="#fff" stroke="#ff7f0e" stroke-width="2.5"/><rect x="816.4" y="1614.5" width="11" height="11" fill="#fff" stroke="#ff7f0e" stroke-width="2.5"/><rect x="806.4" y="1678.1" width="11" height="11" fill="#fff" stroke="#ff7f0e" stroke-width="2.5"/><rect x="783.1" y="1700.7" width="11" height="11" fill="#fff" stroke="#ff7f0e" stroke-width="2.5"/><rect x="761.6" y="1712.6" width="11" height="11" fill="#fff" stroke="#ff7f0e" stroke-width="2.5"/><rect x="730.7" y="1719.7" width="11" height="11" fill="#fff" stroke="#ff7f0e" stroke-width="2.5"/><rect x="683.1" y="1725.7" width="11" height="11" fill="#fff" stroke="#ff7f0e" stroke-width="2.5"/><rect x="654.5" y="1726.9" width="11" height="11" fill="#fff" stroke="#ff7f0e" stroke-width="2.5"/><rect x="621.2" y="1726.9" width="11" height="11" fill="#fff" stroke="#ff7f0e" stroke-width="2.5"/>
<path d="M702.4,1421 L741,1492.4 L769.5,1568.1 L786.7,1626 L795.2,1675.2 L792.9,1709.8 L745.7,1724 L698.1,1730 L643.3,1732.4 L598.1,1727.6" fill="none" stroke="#ffd200" stroke-width="3" stroke-linejoin="round"/><rect x="696.9" y="1415.5" width="11" height="11" fill="#fff" stroke="#ffd200" stroke-width="2.5"/><rect x="735.5" y="1486.9" width="11" height="11" fill="#fff" stroke="#ffd200" stroke-width="2.5"/><rect x="764" y="1562.6" width="11" height="11" fill="#fff" stroke="#ffd200" stroke-width="2.5"/><rect x="781.2" y="1620.5" width="11" height="11" fill="#fff" stroke="#ffd200" stroke-width="2.5"/><rect x="789.7" y="1669.7" width="11" height="11" fill="#fff" stroke="#ffd200" stroke-width="2.5"/><rect x="787.4" y="1704.3" width="11" height="11" fill="#fff" stroke="#ffd200" stroke-width="2.5"/><rect x="740.2" y="1718.5" width="11" height="11" fill="#fff" stroke="#ffd200" stroke-width="2.5"/><rect x="692.6" y="1724.5" width="11" height="11" fill="#fff" stroke="#ffd200" stroke-width="2.5"/><rect x="637.8" y="1726.9" width="11" height="11" fill="#fff" stroke="#ffd200" stroke-width="2.5"/><rect x="592.6" y="1722.1" width="11" height="11" fill="#fff" stroke="#ffd200" stroke-width="2.5"/>
<path d="M667.1,1394.3 L685,1425.2 L710.7,1484.8 L731,1547.9 L744.5,1607.4 L750.5,1656.2 L750.5,1701.4 L725.5,1727.6" fill="none" stroke="#2ca02c" stroke-width="3" stroke-linejoin="round"/><path d="M667.1,1387.3 l7,7 l-7,7 l-7,-7 Z" fill="#fff" stroke="#2ca02c" stroke-width="2.3"/><path d="M685,1418.2 l7,7 l-7,7 l-7,-7 Z" fill="#fff" stroke="#2ca02c" stroke-width="2.3"/><path d="M710.7,1477.8 l7,7 l-7,7 l-7,-7 Z" fill="#fff" stroke="#2ca02c" stroke-width="2.3"/><path d="M731,1540.9 l7,7 l-7,7 l-7,-7 Z" fill="#fff" stroke="#2ca02c" stroke-width="2.3"/><path d="M744.5,1600.4 l7,7 l-7,7 l-7,-7 Z" fill="#fff" stroke="#2ca02c" stroke-width="2.3"/><path d="M750.5,1649.2 l7,7 l-7,7 l-7,-7 Z" fill="#fff" stroke="#2ca02c" stroke-width="2.3"/><path d="M750.5,1694.4 l7,7 l-7,7 l-7,-7 Z" fill="#fff" stroke="#2ca02c" stroke-width="2.3"/><path d="M725.5,1720.6 l7,7 l-7,7 l-7,-7 Z" fill="#fff" stroke="#2ca02c" stroke-width="2.3"/>
<path d="M669.5,1403.8 L687.4,1458.6 L708.8,1516.9 L720.7,1576.4 L727.9,1634.8 L726.7,1684.8 L708.8,1718.1 L669.5,1733.6 L614.8,1730" fill="none" stroke="#17becf" stroke-width="3" stroke-linejoin="round"/><path d="M669.5,1396.8 l7,7 l-7,7 l-7,-7 Z" fill="#fff" stroke="#17becf" stroke-width="2.3"/><path d="M687.4,1451.6 l7,7 l-7,7 l-7,-7 Z" fill="#fff" stroke="#17becf" stroke-width="2.3"/><path d="M708.8,1509.9 l7,7 l-7,7 l-7,-7 Z" fill="#fff" stroke="#17becf" stroke-width="2.3"/><path d="M720.7,1569.4 l7,7 l-7,7 l-7,-7 Z" fill="#fff" stroke="#17becf" stroke-width="2.3"/><path d="M727.9,1627.8 l7,7 l-7,7 l-7,-7 Z" fill="#fff" stroke="#17becf" stroke-width="2.3"/><path d="M726.7,1677.8 l7,7 l-7,7 l-7,-7 Z" fill="#fff" stroke="#17becf" stroke-width="2.3"/><path d="M708.8,1711.1 l7,7 l-7,7 l-7,-7 Z" fill="#fff" stroke="#17becf" stroke-width="2.3"/><path d="M669.5,1726.6 l7,7 l-7,7 l-7,-7 Z" fill="#fff" stroke="#17becf" stroke-width="2.3"/><path d="M614.8,1723 l7,7 l-7,7 l-7,-7 Z" fill="#fff" stroke="#17becf" stroke-width="2.3"/>
<path d="M668.3,1399 L675.5,1437.1 L692.1,1488.3 L702.9,1547.9 L708.8,1605 L702.9,1664.5 L692.1,1707.4 L658.8,1727.6 L607.6,1730" fill="none" stroke="#1f77b4" stroke-width="3" stroke-linejoin="round"/><path d="M668.3,1392 L675.3,1404.2 L661.3,1404.2 Z" fill="#fff" stroke="#1f77b4" stroke-width="2.3"/><path d="M675.5,1430.1 L682.5,1442.3 L668.5,1442.3 Z" fill="#fff" stroke="#1f77b4" stroke-width="2.3"/><path d="M692.1,1481.3 L699.1,1493.5 L685.1,1493.5 Z" fill="#fff" stroke="#1f77b4" stroke-width="2.3"/><path d="M702.9,1540.9 L709.9,1553.2 L695.9,1553.2 Z" fill="#fff" stroke="#1f77b4" stroke-width="2.3"/><path d="M708.8,1598 L715.8,1610.2 L701.8,1610.2 Z" fill="#fff" stroke="#1f77b4" stroke-width="2.3"/><path d="M702.9,1657.5 L709.9,1669.8 L695.9,1669.8 Z" fill="#fff" stroke="#1f77b4" stroke-width="2.3"/><path d="M692.1,1700.4 L699.1,1712.7 L685.1,1712.7 Z" fill="#fff" stroke="#1f77b4" stroke-width="2.3"/><path d="M658.8,1720.6 L665.8,1732.8 L651.8,1732.8 Z" fill="#fff" stroke="#1f77b4" stroke-width="2.3"/><path d="M607.6,1723 L614.6,1735.2 L600.6,1735.2 Z" fill="#fff" stroke="#1f77b4" stroke-width="2.3"/>
<path d="M667.6,1400.2 L669.5,1432.4 L674.3,1468.1 L687.4,1520.5 L691.4,1577.6 L688.6,1646.7 L677.9,1697.9 L646.9,1720.5 L608.8,1728.8" fill="none" stroke="#9467bd" stroke-width="3" stroke-linejoin="round"/><path d="M667.6,1392.7 L669.5,1397.6 L674.7,1397.9 L670.6,1401.2 L672,1406.3 L667.6,1403.4 L663.2,1406.3 L664.6,1401.2 L660.5,1397.9 L665.7,1397.6 Z" fill="#fff" stroke="#9467bd" stroke-width="2"/><path d="M669.5,1424.9 L671.4,1429.8 L676.6,1430.1 L672.5,1433.4 L673.9,1438.5 L669.5,1435.6 L665.1,1438.5 L666.5,1433.4 L662.4,1430.1 L667.6,1429.8 Z" fill="#fff" stroke="#9467bd" stroke-width="2"/><path d="M674.3,1460.6 L676.2,1465.5 L681.4,1465.8 L677.3,1469.1 L678.7,1474.2 L674.3,1471.3 L669.9,1474.2 L671.3,1469.1 L667.2,1465.8 L672.4,1465.5 Z" fill="#fff" stroke="#9467bd" stroke-width="2"/><path d="M687.4,1513 L689.3,1517.9 L694.5,1518.2 L690.4,1521.5 L691.8,1526.6 L687.4,1523.7 L683,1526.6 L684.4,1521.5 L680.3,1518.2 L685.5,1517.9 Z" fill="#fff" stroke="#9467bd" stroke-width="2"/><path d="M691.4,1570.1 L693.3,1575 L698.5,1575.3 L694.4,1578.6 L695.8,1583.7 L691.4,1580.8 L687,1583.7 L688.4,1578.6 L684.3,1575.3 L689.5,1575 Z" fill="#fff" stroke="#9467bd" stroke-width="2"/><path d="M688.6,1639.2 L690.5,1644.1 L695.7,1644.4 L691.6,1647.7 L693,1652.8 L688.6,1649.9 L684.2,1652.8 L685.6,1647.7 L681.5,1644.4 L686.7,1644.1 Z" fill="#fff" stroke="#9467bd" stroke-width="2"/><path d="M677.9,1690.4 L679.8,1695.3 L685,1695.6 L680.9,1698.9 L682.3,1704 L677.9,1701.1 L673.5,1704 L674.9,1698.9 L670.8,1695.6 L676,1695.3 Z" fill="#fff" stroke="#9467bd" stroke-width="2"/><path d="M646.9,1713 L648.8,1717.9 L654,1718.2 L649.9,1721.5 L651.3,1726.6 L646.9,1723.7 L642.5,1726.6 L643.9,1721.5 L639.8,1718.2 L645,1717.9 Z" fill="#fff" stroke="#9467bd" stroke-width="2"/><path d="M608.8,1721.3 L610.7,1726.2 L615.9,1726.5 L611.8,1729.8 L613.2,1734.9 L608.8,1732 L604.4,1734.9 L605.8,1729.8 L601.7,1726.5 L606.9,1726.2 Z" fill="#fff" stroke="#9467bd" stroke-width="2"/>
<text x="827.9" y="1535.6" font-size="22" text-anchor="middle" font-weight="bold" font-style="normal" fill="#d62728" textLength="11" lengthAdjust="spacingAndGlyphs" >5</text>
<text x="886.2" y="1671.3" font-size="22" text-anchor="middle" font-weight="bold" font-style="normal" fill="#d62728" textLength="24" lengthAdjust="spacingAndGlyphs" >15</text>
<text x="819.5" y="1615.4" font-size="22" text-anchor="middle" font-weight="bold" font-style="normal" fill="#ff7f0e" textLength="24" lengthAdjust="spacingAndGlyphs" >15</text>
<text x="830.2" y="1690.4" font-size="22" text-anchor="middle" font-weight="bold" font-style="normal" fill="#ff7f0e" textLength="24" lengthAdjust="spacingAndGlyphs" >20</text>
<text x="775.5" y="1752.3" font-size="22" text-anchor="middle" font-weight="bold" font-style="normal" fill="#ff7f0e" textLength="24" lengthAdjust="spacingAndGlyphs" >25</text>
<text x="714.8" y="1422.5" font-size="22" text-anchor="middle" font-weight="bold" font-style="normal" fill="#ffd200" textLength="11" lengthAdjust="spacingAndGlyphs" >5</text>
<text x="766" y="1565.4" font-size="22" text-anchor="middle" font-weight="bold" font-style="normal" fill="#ffd200" textLength="24" lengthAdjust="spacingAndGlyphs" >15</text>
<text x="792.1" y="1670.1" font-size="22" text-anchor="middle" font-weight="bold" font-style="normal" fill="#ffd200" textLength="24" lengthAdjust="spacingAndGlyphs" >25</text>
<text x="741" y="1753.5" font-size="22" text-anchor="middle" font-weight="bold" font-style="normal" fill="#ffd200" textLength="24" lengthAdjust="spacingAndGlyphs" >35</text>
<text x="643.3" y="1758.2" font-size="22" text-anchor="middle" font-weight="bold" font-style="normal" fill="#ffd200" textLength="24" lengthAdjust="spacingAndGlyphs" >45</text>
<text x="723.1" y="1482" font-size="22" text-anchor="middle" font-weight="bold" font-style="normal" fill="#2ca02c" textLength="24" lengthAdjust="spacingAndGlyphs" >15</text>
<text x="749.3" y="1633.2" font-size="22" text-anchor="middle" font-weight="bold" font-style="normal" fill="#2ca02c" textLength="24" lengthAdjust="spacingAndGlyphs" >25</text>
<text x="751.7" y="1698.7" font-size="22" text-anchor="middle" font-weight="bold" font-style="normal" fill="#2ca02c" textLength="24" lengthAdjust="spacingAndGlyphs" >35</text>
<text x="695.7" y="1455.9" font-size="22" text-anchor="middle" font-weight="bold" font-style="normal" fill="#17becf" textLength="24" lengthAdjust="spacingAndGlyphs" >15</text>
<text x="719.5" y="1573.7" font-size="22" text-anchor="middle" font-weight="bold" font-style="normal" fill="#17becf" textLength="24" lengthAdjust="spacingAndGlyphs" >25</text>
<text x="726.7" y="1680.9" font-size="22" text-anchor="middle" font-weight="bold" font-style="normal" fill="#17becf" textLength="24" lengthAdjust="spacingAndGlyphs" >35</text>
<text x="701.7" y="1546.3" font-size="22" text-anchor="middle" font-weight="bold" font-style="normal" fill="#1f77b4" textLength="24" lengthAdjust="spacingAndGlyphs" >25</text>
<text x="699.3" y="1689.2" font-size="22" text-anchor="middle" font-weight="bold" font-style="normal" fill="#1f77b4" textLength="24" lengthAdjust="spacingAndGlyphs" >35</text>
<text x="664.8" y="1722.5" font-size="22" text-anchor="middle" font-weight="bold" font-style="normal" fill="#1f77b4" textLength="24" lengthAdjust="spacingAndGlyphs" >45</text>
<text x="664.8" y="1527.3" font-size="22" text-anchor="middle" font-weight="bold" font-style="normal" fill="#9467bd" textLength="24" lengthAdjust="spacingAndGlyphs" >25</text>
<text x="664.8" y="1653.5" font-size="22" text-anchor="middle" font-weight="bold" font-style="normal" fill="#9467bd" textLength="24" lengthAdjust="spacingAndGlyphs" >35</text>
<text x="630.2" y="1717.8" font-size="22" text-anchor="middle" font-weight="bold" font-style="normal" fill="#9467bd" textLength="24" lengthAdjust="spacingAndGlyphs" >45</text>
<text x="130.9" y="1228.6" font-size="25" text-anchor="start" font-weight="bold" font-style="italic" fill="#d62728" textLength="71" lengthAdjust="spacingAndGlyphs" >1 H2O</text>
<text x="229.3" y="1228.6" font-size="25" text-anchor="start" font-weight="bold" font-style="italic" fill="#ff7f0e" textLength="93.8" lengthAdjust="spacingAndGlyphs" >1.5 H2O</text>
<text x="351" y="1228.6" font-size="25" text-anchor="start" font-weight="bold" font-style="italic" fill="#ffd200" textLength="94.4" lengthAdjust="spacingAndGlyphs" >1.8 H2O</text>
<text x="475.3" y="1228.6" font-size="25" text-anchor="start" font-weight="bold" font-style="italic" fill="#2ca02c" textLength="95.4" lengthAdjust="spacingAndGlyphs" >2.5 H2O</text>
<text x="600.1" y="1228.6" font-size="25" text-anchor="start" font-weight="bold" font-style="italic" fill="#17becf" textLength="94.9" lengthAdjust="spacingAndGlyphs" >3.0 H2O</text>
<text x="723.9" y="1228.6" font-size="25" text-anchor="start" font-weight="bold" font-style="italic" fill="#1f77b4" textLength="95.3" lengthAdjust="spacingAndGlyphs" >3.5 H2O</text>
<text x="844.6" y="1228.6" font-size="25" text-anchor="start" font-weight="bold" font-style="italic" fill="#9467bd" textLength="72.5" lengthAdjust="spacingAndGlyphs" >4 H2O</text>
<text x="343.9" y="1472" font-size="39" text-anchor="start" font-weight="bold" font-style="italic" fill="#15a052" textLength="176" lengthAdjust="spacingAndGlyphs" >“MP”-TTG</text>
<text x="304.4" y="1624.3" font-size="39" text-anchor="end" font-weight="bold" font-style="italic" fill="#555" textLength="124" lengthAdjust="spacingAndGlyphs" >Source</text>
<text x="304.4" y="1664.9" font-size="39" text-anchor="end" font-weight="bold" font-style="italic" fill="#555" textLength="81" lengthAdjust="spacingAndGlyphs" >rock</text>
<path d="M324.6,1606 L327.2,1613.4 L335.1,1613.6 L328.9,1618.4 L331.1,1625.9 L324.6,1621.5 L318.1,1625.9 L320.3,1618.4 L314.1,1613.6 L322,1613.4 Z" fill="#555"/>
<rect x="92.8" y="1190.6" width="870" height="701" fill="none" stroke="#111" stroke-width="2.5"/>
<path d="M92.8,1891.6 v13.5 M154.9,1891.6 v6.6 M217.1,1891.6 v13.5 M279.2,1891.6 v6.6 M341.4,1891.6 v13.5 M403.5,1891.6 v6.6 M465.7,1891.6 v13.5 M527.8,1891.6 v6.6 M589.9,1891.6 v13.5 M652.1,1891.6 v6.6 M714.2,1891.6 v13.5 M776.4,1891.6 v6.6 M838.5,1891.6 v13.5 M900.7,1891.6 v6.6 M962.8,1891.6 v13.5 M92.8,1891.6 h-14 M92.8,1833.2 h-7 M92.8,1774.8 h-14 M92.8,1716.3 h-7 M92.8,1657.9 h-14 M92.8,1599.5 h-7 M92.8,1541.1 h-14 M92.8,1482.7 h-7 M92.8,1424.3 h-14 M92.8,1365.8 h-7 M92.8,1307.4 h-14 M92.8,1249 h-7 M92.8,1190.6 h-14" stroke="#111" stroke-width="2"/>
<text x="87.8" y="1929" font-size="24" text-anchor="middle" font-weight="normal" font-style="normal" fill="#111" textLength="26.6" lengthAdjust="spacingAndGlyphs" >-5</text>
<text x="212.1" y="1929" font-size="24" text-anchor="middle" font-weight="normal" font-style="normal" fill="#111" textLength="13.3" lengthAdjust="spacingAndGlyphs" >0</text>
<text x="336.4" y="1929" font-size="24" text-anchor="middle" font-weight="normal" font-style="normal" fill="#111" textLength="13.3" lengthAdjust="spacingAndGlyphs" >5</text>
<text x="460.7" y="1929" font-size="24" text-anchor="middle" font-weight="normal" font-style="normal" fill="#111" textLength="26.6" lengthAdjust="spacingAndGlyphs" >10</text>
<text x="584.9" y="1929" font-size="24" text-anchor="middle" font-weight="normal" font-style="normal" fill="#111" textLength="26.6" lengthAdjust="spacingAndGlyphs" >15</text>
<text x="709.2" y="1929" font-size="24" text-anchor="middle" font-weight="normal" font-style="normal" fill="#111" textLength="26.6" lengthAdjust="spacingAndGlyphs" >20</text>
<text x="833.5" y="1929" font-size="24" text-anchor="middle" font-weight="normal" font-style="normal" fill="#111" textLength="26.6" lengthAdjust="spacingAndGlyphs" >25</text>
<text x="957.8" y="1929" font-size="24" text-anchor="middle" font-weight="normal" font-style="normal" fill="#111" textLength="26.6" lengthAdjust="spacingAndGlyphs" >30</text>
<text x="73.5" y="1900.6" font-size="24" text-anchor="end" font-weight="normal" font-style="normal" fill="#111" textLength="53.2" lengthAdjust="spacingAndGlyphs" >-100</text>
<text x="73.5" y="1783.8" font-size="24" text-anchor="end" font-weight="normal" font-style="normal" fill="#111" textLength="39.9" lengthAdjust="spacingAndGlyphs" >-50</text>
<text x="73.5" y="1666.9" font-size="24" text-anchor="end" font-weight="normal" font-style="normal" fill="#111" textLength="13.3" lengthAdjust="spacingAndGlyphs" >0</text>
<text x="73.5" y="1550.1" font-size="24" text-anchor="end" font-weight="normal" font-style="normal" fill="#111" textLength="26.6" lengthAdjust="spacingAndGlyphs" >50</text>
<text x="73.5" y="1433.3" font-size="24" text-anchor="end" font-weight="normal" font-style="normal" fill="#111" textLength="39.9" lengthAdjust="spacingAndGlyphs" >100</text>
<text x="73.5" y="1316.4" font-size="24" text-anchor="end" font-weight="normal" font-style="normal" fill="#111" textLength="39.9" lengthAdjust="spacingAndGlyphs" >150</text>
<text x="73.5" y="1199.6" font-size="24" text-anchor="end" font-weight="normal" font-style="normal" fill="#111" textLength="39.9" lengthAdjust="spacingAndGlyphs" >200</text>
<text x="527.5" y="1960" font-size="38" text-anchor="middle" font-weight="bold" font-style="italic" fill="#111" >λ<tspan font-size="24" dy="5">1</tspan></text>
<text transform="translate(29,1544) rotate(-90)" font-size="38" text-anchor="middle" font-weight="bold" font-style="italic" fill="#111">λ<tspan font-size="24" dy="5">2</tspan></text>
<rect x="93" y="1846" width="45" height="45.6" fill="#fff" stroke="#111" stroke-width="2"/>
<text x="115.5" y="1882" font-size="46" text-anchor="middle" font-weight="normal" font-style="normal" fill="#111" >d</text>
</g>
<g font-family="Liberation Sans, Arial, sans-serif">
<defs><clipPath id="clipE"><rect x="1105" y="1191" width="870.6" height="700.6"/></clipPath></defs>
<g clip-path="url(#clipE)">
<path d="M1060,1556 C1067.7,1545.7 1089,1562.8 1106,1568 C1123,1573.2 1142.3,1579.7 1162,1587 C1181.7,1594.3 1206.7,1604.5 1224,1612 C1241.3,1619.5 1252.2,1625.5 1266,1632 C1279.8,1638.5 1293.3,1646 1307,1651 C1320.7,1656 1332.5,1661.8 1348,1662 C1363.5,1662.2 1383,1657.7 1400,1652 C1417,1646.3 1433.3,1636.2 1450,1628 C1466.7,1619.8 1475,1614.3 1500,1603 C1525,1591.7 1570,1575.5 1600,1560 C1630,1544.5 1661,1521.9 1680,1510 C1699,1498.1 1701,1491.7 1713.8,1488.5 C1726.6,1485.3 1745.1,1487.9 1756.8,1491 C1768.5,1494.1 1776.6,1497.8 1783.8,1507.3 C1791,1516.8 1794.6,1529.8 1800,1547.7 C1805.4,1565.7 1812.4,1594.8 1816,1615 C1819.6,1635.2 1822.4,1648.6 1821.5,1668.8 C1820.6,1689 1817.9,1711.3 1810.7,1736 C1803.5,1760.7 1789.6,1794.5 1778.4,1816.9 C1767.2,1839.4 1756,1859.9 1743.4,1870.7 C1730.8,1881.5 1718.7,1880.6 1703,1881.5 C1687.3,1882.4 1667.2,1879.6 1649.2,1876 C1631.2,1872.4 1613.2,1867.6 1595.3,1860 C1577.3,1852.4 1559.4,1840.3 1541.5,1830.3 C1523.6,1820.3 1505.7,1809.2 1487.7,1800 C1469.8,1790.8 1451.8,1783 1433.8,1775 C1415.8,1767 1397.7,1759.5 1380,1752 C1362.3,1744.5 1344.1,1737.8 1327.8,1730 C1311.5,1722.2 1299.5,1714.7 1282.2,1705 C1264.9,1695.3 1244,1680 1224,1672 C1204,1664 1181.7,1662.2 1162,1657 C1142.3,1651.8 1123,1645.5 1106,1641 C1089,1636.5 1067.7,1644.2 1060,1630 C1052.3,1615.8 1052.3,1566.3 1060,1556 Z" fill="#f98c2a" fill-opacity="0.16"/>
<path d="M1360,1670 C1370,1661.7 1376.7,1658.3 1400,1650 C1423.3,1641.7 1466.7,1631.7 1500,1620 C1533.3,1608.3 1570,1595 1600,1580 C1630,1565 1656.7,1542.5 1680,1530 C1703.3,1517.5 1725,1506.7 1740,1505 C1755,1503.3 1762.5,1509.2 1770,1520 C1777.5,1530.8 1781.3,1550 1785,1570 C1788.7,1590 1791.2,1618.3 1792,1640 C1792.8,1661.7 1793.7,1678.3 1790,1700 C1786.3,1721.7 1778.3,1748.3 1770,1770 C1761.7,1791.7 1751.7,1815.8 1740,1830 C1728.3,1844.2 1716.7,1851.7 1700,1855 C1683.3,1858.3 1660,1854.2 1640,1850 C1620,1845.8 1600,1838.3 1580,1830 C1560,1821.7 1540,1810 1520,1800 C1500,1790 1480,1780 1460,1770 C1440,1760 1420,1751.7 1400,1740 C1380,1728.3 1346.7,1711.7 1340,1700 C1333.3,1688.3 1350,1678.3 1360,1670 Z" fill="#f98c2a" fill-opacity="0.14"/>
<path d="M1450,1640 C1465,1626.7 1516.7,1631.7 1550,1620 C1583.3,1608.3 1620,1583.3 1650,1570 C1680,1556.7 1711.7,1540 1730,1540 C1748.3,1540 1753,1555 1760,1570 C1767,1585 1770.7,1608.3 1772,1630 C1773.3,1651.7 1772.5,1676.7 1768,1700 C1763.5,1723.3 1754.7,1751.3 1745,1770 C1735.3,1788.7 1722.5,1804.5 1710,1812 C1697.5,1819.5 1685,1817 1670,1815 C1655,1813 1638.3,1806.7 1620,1800 C1601.7,1793.3 1580,1784.2 1560,1775 C1540,1765.8 1516.7,1757.5 1500,1745 C1483.3,1732.5 1468.3,1717.5 1460,1700 C1451.7,1682.5 1435,1653.3 1450,1640 Z" fill="#f98c2a" fill-opacity="0.21"/>
<path d="M1520,1640 C1533.3,1630 1573.3,1629.2 1600,1620 C1626.7,1610.8 1658.3,1591.7 1680,1585 C1701.7,1578.3 1718,1574.2 1730,1580 C1742,1585.8 1748.7,1601.7 1752,1620 C1755.3,1638.3 1753.7,1670 1750,1690 C1746.3,1710 1740,1727.5 1730,1740 C1720,1752.5 1705,1761.3 1690,1765 C1675,1768.7 1656.7,1765.3 1640,1762 C1623.3,1758.7 1605.8,1752.8 1590,1745 C1574.2,1737.2 1556.7,1725.8 1545,1715 C1533.3,1704.2 1524.2,1692.5 1520,1680 C1515.8,1667.5 1506.7,1650 1520,1640 Z" fill="#f98c2a" fill-opacity="0.3"/>
<path d="M1570,1640 C1578.3,1627.5 1618.3,1620.8 1640,1615 C1661.7,1609.2 1684.2,1604.2 1700,1605 C1715.8,1605.8 1729.2,1609.2 1735,1620 C1740.8,1630.8 1738.3,1655 1735,1670 C1731.7,1685 1725.8,1700.8 1715,1710 C1704.2,1719.2 1685,1724.2 1670,1725 C1655,1725.8 1638.3,1720.8 1625,1715 C1611.7,1709.2 1599.2,1702.5 1590,1690 C1580.8,1677.5 1561.7,1652.5 1570,1640 Z" fill="#f98c2a" fill-opacity="0.42"/>
<path d="M1600,1640 C1605,1630.8 1633.3,1624.2 1650,1620 C1666.7,1615.8 1687.5,1612.5 1700,1615 C1712.5,1617.5 1721.7,1625.8 1725,1635 C1728.3,1644.2 1725,1660.8 1720,1670 C1715,1679.2 1705.8,1686.3 1695,1690 C1684.2,1693.7 1667.5,1694.5 1655,1692 C1642.5,1689.5 1629.2,1683.7 1620,1675 C1610.8,1666.3 1595,1649.2 1600,1640 Z" fill="#f98c2a" fill-opacity="0.8"/>
<path d="M1060,1366 C1067.7,1334.2 1078.6,1366 1106,1364 C1133.4,1362 1183.8,1357.2 1224.2,1353.8 C1264.6,1350.4 1312.2,1346.6 1348.4,1343.5 C1384.6,1340.4 1411.1,1336 1441.6,1335.2 C1472,1334.5 1507.4,1334.9 1531.1,1339 C1554.8,1343.1 1570.5,1353.9 1583.6,1360 C1596.7,1366.1 1601,1368.7 1609.8,1375.7 C1618.5,1382.7 1624.7,1394 1636.1,1401.9 C1647.5,1409.8 1669.8,1414.2 1678.1,1422.9 C1686.4,1431.7 1685.9,1443.9 1685.9,1454.4 C1685.9,1464.9 1685.5,1475.4 1678.1,1485.9 C1670.7,1496.4 1652.7,1506.9 1641.3,1517.4 C1629.9,1527.9 1623.8,1537.5 1609.8,1548.9 C1595.8,1560.3 1574.8,1572.9 1557.3,1585.6 C1539.8,1598.3 1522.5,1614.3 1505,1625 C1487.5,1635.7 1469.5,1643.5 1452,1650 C1434.5,1656.5 1417.3,1661.7 1400,1664 C1382.7,1666.3 1363.5,1666.2 1348,1664 C1332.5,1661.8 1320.7,1656.3 1307,1651 C1293.3,1645.7 1279.8,1638.5 1266,1632 C1252.2,1625.5 1241.3,1619.5 1224,1612 C1206.7,1604.5 1181.7,1594.3 1162,1587 C1142.3,1579.7 1123,1573.3 1106,1568 C1089,1562.7 1067.7,1588.7 1060,1555 C1052.3,1521.3 1052.3,1397.8 1060,1366 Z" fill="#3c3cf2" fill-opacity="0.2"/>
<path d="M1060,1392 C1067.7,1369.7 1078.6,1390.9 1106,1388 C1133.4,1385.1 1184.8,1378.8 1224.2,1374.5 C1263.6,1370.2 1295.4,1364.8 1342.2,1362.1 C1389,1359.3 1464.7,1354.9 1504.9,1358 C1545.1,1361.1 1563.5,1371.8 1583.6,1380.9 C1603.7,1390 1617.7,1401.9 1625.6,1412.4 C1633.5,1422.9 1633.5,1433.4 1630.9,1443.9 C1628.3,1454.4 1622.1,1463.2 1609.8,1475.4 C1597.5,1487.7 1574.8,1505.2 1557.3,1517.4 C1539.8,1529.7 1522.4,1540.2 1504.9,1548.9 C1487.4,1557.7 1469.9,1565.5 1452.4,1569.9 C1434.9,1574.3 1421.8,1576.8 1399.9,1575.1 C1378,1573.3 1347.3,1565.2 1321.1,1559.4 C1294.8,1553.6 1268.6,1544.9 1242.4,1540 C1216.2,1535.1 1186.4,1532.3 1163.7,1530 C1141,1527.7 1123.3,1527.3 1106,1526 C1088.7,1524.7 1067.7,1544.3 1060,1522 C1052.3,1499.7 1052.3,1414.3 1060,1392 Z" fill="#3c3cf2" fill-opacity="0.22"/>
<path d="M1124.8,1473.9 C1121.7,1465 1135.5,1443.6 1141.4,1434.6 C1147.3,1425.6 1146.2,1425.2 1160,1420 C1173.8,1414.8 1193.5,1410.4 1224.2,1403.5 C1254.9,1396.6 1298.3,1383 1344.3,1378.7 C1390.3,1374.4 1464,1374.9 1500,1377.6 C1536,1380.3 1547.5,1384.6 1560,1395 C1572.5,1405.4 1578.3,1425.8 1575,1440 C1571.7,1454.2 1559.2,1469.2 1540,1480 C1520.8,1490.8 1491.7,1500.3 1460,1505 C1428.3,1509.7 1386.7,1509.7 1350,1508 C1313.3,1506.3 1271.7,1498.3 1240,1495 C1208.3,1491.7 1179.2,1491.5 1160,1488 C1140.8,1484.5 1127.9,1482.8 1124.8,1473.9 Z" fill="#3c3cf2" fill-opacity="0.3"/>
<path d="M1193.2,1471.8 C1189.8,1466.5 1194.2,1459.4 1199.4,1453.2 C1204.6,1447 1213.2,1440.1 1224.2,1434.6 C1235.2,1429.1 1244.9,1425.9 1265.6,1420 C1286.3,1414.1 1309.3,1402.8 1348.4,1399.4 C1387.5,1396 1468.1,1396 1500,1399.4 C1531.9,1402.8 1534.2,1410.7 1540,1420 C1545.8,1429.3 1545,1445.3 1535,1455 C1525,1464.7 1502.5,1472.2 1480,1478 C1457.5,1483.8 1430,1488 1400,1490 C1370,1492 1330,1490.8 1300,1490 C1270,1489.2 1237.8,1488 1220,1485 C1202.2,1482 1196.6,1477.1 1193.2,1471.8 Z" fill="#3c3cf2" fill-opacity="0.33"/>
<path d="M1244.9,1473.9 C1236.8,1469.4 1242.5,1462.2 1251.1,1453.2 C1259.7,1444.2 1280.5,1427.6 1296.7,1420 C1312.9,1412.4 1324.2,1410.1 1348.4,1407.7 C1372.6,1405.3 1416.3,1404.4 1441.6,1405.6 C1466.9,1406.8 1489.4,1408.4 1500,1415 C1510.6,1421.6 1511.7,1436.7 1505,1445 C1498.3,1453.3 1480.8,1459.5 1460,1465 C1439.2,1470.5 1406.7,1475.5 1380,1478 C1353.3,1480.5 1322.5,1480.7 1300,1480 C1277.5,1479.3 1253.1,1478.4 1244.9,1473.9 Z" fill="#3c3cf2" fill-opacity="0.4"/>
<path d="M1317.4,1473.9 C1315,1471.1 1318.8,1458.7 1323.6,1453.2 C1328.4,1447.7 1331.9,1443.9 1346.4,1440.8 C1360.9,1437.7 1398.9,1433.9 1410.6,1434.6 C1422.3,1435.3 1418.5,1441.1 1416.8,1444.9 C1415.1,1448.7 1413.3,1453.2 1400.2,1457.3 C1387.1,1461.4 1351.9,1467 1338.1,1469.8 C1324.3,1472.6 1319.8,1476.7 1317.4,1473.9 Z" fill="#3c3cf2" fill-opacity="0.6"/>
<path d="M1330,1500 C1339.2,1486.7 1361.7,1471.7 1380,1460 C1398.3,1448.3 1416.7,1438.3 1440,1430 C1463.3,1421.7 1493.3,1415 1520,1410 C1546.7,1405 1573.3,1401.7 1600,1400 C1626.7,1398.3 1656.7,1397.5 1680,1400 C1703.3,1402.5 1726.7,1408.3 1740,1415 C1753.3,1421.7 1760,1430.8 1760,1440 C1760,1449.2 1747.3,1461.7 1740,1470 C1732.7,1478.3 1721.8,1481.7 1716,1490 C1710.2,1498.3 1707.7,1506.7 1705,1520 C1702.3,1533.3 1705.8,1555 1700,1570 C1694.2,1585 1685,1598.3 1670,1610 C1655,1621.7 1633.3,1633 1610,1640 C1586.7,1647 1556.7,1651.2 1530,1652 C1503.3,1652.8 1475,1650.3 1450,1645 C1425,1639.7 1398.3,1630.8 1380,1620 C1361.7,1609.2 1349.2,1593.3 1340,1580 C1330.8,1566.7 1326.7,1553.3 1325,1540 C1323.3,1526.7 1320.8,1513.3 1330,1500 Z" fill="#1f8f28" fill-opacity="0.1"/>
<path d="M1357.9,1512.1 C1363.2,1496.3 1384.2,1486.8 1399.9,1475.4 C1415.7,1464 1434.9,1451.8 1452.4,1443.9 C1469.9,1436 1483,1432.6 1504.9,1428.2 C1526.8,1423.8 1561.7,1420.3 1583.6,1417.7 C1605.5,1415.1 1620.3,1409.8 1636.1,1412.4 C1651.8,1415 1668.5,1424.7 1678.1,1433.4 C1687.7,1442.2 1692,1450.9 1693.8,1464.9 C1695.5,1478.9 1693,1501.7 1688.6,1517.4 C1684.2,1533.2 1680.7,1545.4 1667.6,1559.4 C1654.5,1573.4 1632.5,1590.9 1609.8,1601.4 C1587,1611.9 1557.3,1619.8 1531.1,1622.4 C1504.9,1625 1474.3,1621.5 1452.4,1617.1 C1430.5,1612.7 1413.9,1604 1399.9,1596.1 C1385.9,1588.2 1375.4,1583.9 1368.4,1569.9 C1361.4,1555.9 1352.7,1527.8 1357.9,1512.1 Z" fill="#1f8f28" fill-opacity="0.24"/>
<path d="M1399.9,1517.4 C1407.8,1505.2 1434.9,1490.3 1452.4,1480.7 C1469.9,1471.1 1487.4,1464.1 1504.9,1459.7 C1522.4,1455.3 1539.8,1454.4 1557.3,1454.4 C1574.8,1454.4 1594,1454.5 1609.8,1459.7 C1625.5,1465 1643,1474.5 1651.8,1485.9 C1660.5,1497.3 1664,1514.8 1662.3,1527.9 C1660.5,1541 1654.4,1554.1 1641.3,1564.6 C1628.2,1575.1 1606.3,1585.7 1583.6,1590.9 C1560.9,1596.2 1528.5,1597.8 1504.9,1596.1 C1481.3,1594.3 1458.5,1587.4 1441.9,1580.4 C1425.3,1573.4 1412.1,1564.6 1405.1,1554.1 C1398.1,1543.6 1392,1529.6 1399.9,1517.4 Z" fill="#1f8f28" fill-opacity="0.26"/>
<path d="M1436.6,1527.9 C1441.8,1518.3 1462.8,1504.3 1478.6,1496.4 C1494.3,1488.5 1513.6,1483.8 1531.1,1480.7 C1548.6,1477.7 1566.1,1475.5 1583.6,1478.1 C1601.1,1480.7 1625.6,1487.2 1636.1,1496.4 C1646.6,1505.6 1649.2,1521.7 1646.6,1533.1 C1644,1544.5 1635.2,1556.7 1620.3,1564.6 C1605.4,1572.5 1580,1578.7 1557.3,1580.4 C1534.6,1582.2 1502.3,1579.5 1483.9,1575.1 C1465.5,1570.7 1455,1562 1447.1,1554.1 C1439.2,1546.2 1431.3,1537.5 1436.6,1527.9 Z" fill="#1f8f28" fill-opacity="0.45"/>
<path d="M1478.6,1533.1 C1484.7,1524.3 1513.6,1515.6 1531.1,1512.1 C1548.6,1508.6 1567.8,1509.5 1583.6,1512.1 C1599.3,1514.7 1619.5,1520.9 1625.6,1527.9 C1631.7,1534.9 1631.7,1547.1 1620.3,1554.1 C1608.9,1561.1 1578.3,1568.2 1557.3,1569.9 C1536.3,1571.7 1507.5,1570.7 1494.4,1564.6 C1481.3,1558.5 1472.5,1541.8 1478.6,1533.1 Z" fill="#1f8f28" fill-opacity="0.8"/>
<path d="M1534.8,1460.4 C1536.9,1457.8 1544.6,1450.1 1547.2,1444.9 C1549.8,1439.7 1551.3,1434.1 1550.3,1429.4 C1549.3,1424.8 1546.2,1419.6 1541,1417 C1535.8,1414.4 1530.7,1414.8 1519.3,1413.9 C1507.9,1413 1490.8,1411.7 1472.7,1411.4 C1454.6,1411.1 1428.7,1411.4 1410.6,1412.3 C1392.5,1413.2 1379.5,1414.2 1364,1417 C1348.5,1419.8 1332.4,1424.2 1317.4,1429.4 C1302.4,1434.6 1283.2,1440.2 1273.9,1448 C1264.6,1455.8 1262.5,1469.8 1261.5,1476 C1260.5,1482.2 1263.6,1480.6 1267.7,1485.3 C1271.8,1490 1278,1498.2 1286.3,1503.9 C1294.6,1509.6 1306.5,1514.7 1317.4,1519.4 C1328.3,1524.1 1341.2,1530.3 1351.6,1531.9 C1361.9,1533.5 1367.1,1529.8 1379.5,1528.8 C1391.9,1527.8 1413.2,1526.8 1426.1,1525.7 C1439,1524.7 1451.9,1523 1457.1,1522.5" fill="none" stroke="#2e2489" stroke-width="3.5" stroke-dasharray="13 7"/>
<path d="M1444.6,1566.5 C1448.2,1558 1457.1,1530.1 1468.8,1518 C1480.5,1505.9 1498,1498.7 1514.6,1493.8 C1531.2,1488.9 1551.4,1489.2 1568.4,1488.5 C1585.5,1487.8 1605.2,1486.2 1616.9,1489.8 C1628.6,1493.4 1633,1503.5 1638.4,1510 C1643.8,1516.5 1647.4,1521.6 1649.2,1528.8 C1651,1536 1650.1,1546.3 1649.2,1553 C1648.3,1559.7 1648.3,1564.7 1643.8,1569.2 C1639.3,1573.7 1634.9,1577.3 1622.3,1580 C1609.7,1582.7 1586.4,1583.6 1568.4,1585.4 C1550.5,1587.2 1530.3,1591.2 1514.6,1590.7 C1498.9,1590.2 1485.4,1586.3 1474.2,1582.7 C1463,1579.1 1452.2,1571.9 1447.3,1569.2 C1442.4,1566.5 1441,1575 1444.6,1566.5 Z" fill="none" stroke="#e4f4dc" stroke-width="3.5" stroke-dasharray="13 7"/>
<path d="M1493,1574.6 C1492.1,1579.1 1487.2,1593.4 1487.7,1601.5 C1488.2,1609.6 1489,1614.9 1495.7,1623 C1502.4,1631.1 1515.9,1641 1528,1650 C1540.1,1659 1554.9,1669.3 1568.4,1676.9 C1581.9,1684.5 1595.3,1689.9 1608.8,1695.7 C1622.3,1701.5 1638,1709.2 1649.2,1711.9 C1660.4,1714.6 1667.1,1714.2 1676.1,1711.9 C1685.1,1709.7 1694.5,1704.7 1703,1698.4 C1711.5,1692.1 1721.4,1682.7 1727.2,1674.2 C1733,1665.7 1735.8,1656.7 1738,1647.3 C1740.2,1637.9 1742,1627.1 1740.7,1617.7 C1739.4,1608.3 1733.9,1597.9 1729.9,1590.7 C1725.9,1583.5 1723.2,1580.4 1716.5,1574.6 C1709.8,1568.8 1698.6,1560.2 1689.6,1555.7 C1680.6,1551.2 1673.8,1549 1662.6,1547.7 C1651.4,1546.4 1638,1546.8 1622.3,1547.7 C1606.6,1548.6 1582.8,1551.2 1568.4,1553 C1554,1554.8 1541.4,1557.5 1536,1558.4" fill="none" stroke="#f08a18" stroke-width="3.5" stroke-dasharray="13 7"/>
<path d="M1105,1760 L1975.6,885.3" stroke="#c4c4c4" stroke-width="5" stroke-dasharray="14 7"/>
<path d="M1105,1891.6 L1975.6,1017" stroke="#c4c4c4" stroke-width="5" stroke-dasharray="14 7"/>
<path d="M1260.2,1931.6 L1975.6,1216.2" stroke="#c4c4c4" stroke-width="5" stroke-dasharray="14 7"/>
<path d="M1105,2328.9 L1975.6,1454.3" stroke="#c4c4c4" stroke-width="5" stroke-dasharray="14 7"/>
</g>
<path d="M1503.8,1610.3 L1516.4,1612.9 L1557.3,1628.7 L1617.7,1642.3 L1668.6,1641.8 L1726.9,1641.8 L1789.9,1641.8 L1869.6,1643.4 L1902.7,1638.1" fill="none" stroke="#d62728" stroke-width="3" stroke-linejoin="round"/><circle cx="1503.8" cy="1610.3" r="5.5" fill="#fff" stroke="#d62728" stroke-width="2"/><circle cx="1516.4" cy="1612.9" r="5.5" fill="#fff" stroke="#d62728" stroke-width="2"/><circle cx="1557.3" cy="1628.7" r="5.5" fill="#fff" stroke="#d62728" stroke-width="2"/><circle cx="1617.7" cy="1642.3" r="5.5" fill="#fff" stroke="#d62728" stroke-width="2"/><circle cx="1668.6" cy="1641.8" r="5.5" fill="#fff" stroke="#d62728" stroke-width="2"/><circle cx="1726.9" cy="1641.8" r="5.5" fill="#fff" stroke="#d62728" stroke-width="2"/><circle cx="1789.9" cy="1641.8" r="5.5" fill="#fff" stroke="#d62728" stroke-width="2"/><circle cx="1869.6" cy="1643.4" r="5.5" fill="#fff" stroke="#d62728" stroke-width="2"/><circle cx="1902.7" cy="1638.1" r="5.5" fill="#fff" stroke="#d62728" stroke-width="2"/>
<path d="M1466,1568.8 L1507.5,1564.6 L1525.9,1568.8 L1544.2,1573 L1565.7,1576.7 L1587.3,1576.7 L1621.9,1576.7 L1661.8,1579.3 L1703.3,1583.5 L1737.4,1587.7" fill="none" stroke="#ff7f0e" stroke-width="3" stroke-linejoin="round"/><rect x="1461" y="1563.8" width="9.9" height="9.9" fill="#fff" stroke="#ff7f0e" stroke-width="2.5"/><rect x="1502.5" y="1559.6" width="9.9" height="9.9" fill="#fff" stroke="#ff7f0e" stroke-width="2.5"/><rect x="1521" y="1563.8" width="9.9" height="9.9" fill="#fff" stroke="#ff7f0e" stroke-width="2.5"/><rect x="1539.2" y="1568" width="9.9" height="9.9" fill="#fff" stroke="#ff7f0e" stroke-width="2.5"/><rect x="1560.8" y="1571.8" width="9.9" height="9.9" fill="#fff" stroke="#ff7f0e" stroke-width="2.5"/><rect x="1582.3" y="1571.8" width="9.9" height="9.9" fill="#fff" stroke="#ff7f0e" stroke-width="2.5"/><rect x="1617" y="1571.8" width="9.9" height="9.9" fill="#fff" stroke="#ff7f0e" stroke-width="2.5"/><rect x="1656.8" y="1574.3" width="9.9" height="9.9" fill="#fff" stroke="#ff7f0e" stroke-width="2.5"/><rect x="1698.3" y="1578.5" width="9.9" height="9.9" fill="#fff" stroke="#ff7f0e" stroke-width="2.5"/><rect x="1732.5" y="1582.8" width="9.9" height="9.9" fill="#fff" stroke="#ff7f0e" stroke-width="2.5"/>
<path d="M1445,1552 L1503.8,1541 L1530.1,1546.3 L1542.7,1551.5 L1551.1,1546.3 L1587.3,1555.2 L1618.2,1557.3 L1653.9,1563.6 L1684.3,1571.5" fill="none" stroke="#ffd200" stroke-width="3" stroke-linejoin="round"/><rect x="1498.8" y="1536" width="9.9" height="9.9" fill="#fff" stroke="#ffd200" stroke-width="2.5"/><rect x="1525.1" y="1541.3" width="9.9" height="9.9" fill="#fff" stroke="#ffd200" stroke-width="2.5"/><rect x="1537.8" y="1546.5" width="9.9" height="9.9" fill="#fff" stroke="#ffd200" stroke-width="2.5"/><rect x="1546.1" y="1541.3" width="9.9" height="9.9" fill="#fff" stroke="#ffd200" stroke-width="2.5"/><rect x="1582.3" y="1550.2" width="9.9" height="9.9" fill="#fff" stroke="#ffd200" stroke-width="2.5"/><rect x="1613.2" y="1552.3" width="9.9" height="9.9" fill="#fff" stroke="#ffd200" stroke-width="2.5"/><rect x="1649" y="1558.6" width="9.9" height="9.9" fill="#fff" stroke="#ffd200" stroke-width="2.5"/><rect x="1679.3" y="1566.5" width="9.9" height="9.9" fill="#fff" stroke="#ffd200" stroke-width="2.5"/>
<path d="M1311.2,1671.6 L1360.5,1625 L1400,1585 L1447.1,1527.9 L1502.2,1488.5 L1531.1,1479.6 L1546.8,1485.9 L1573.1,1499 L1588.8,1506.9" fill="none" stroke="#2ca02c" stroke-width="2.5" stroke-linejoin="round"/><path d="M1311.2,1666 l5.6,5.6 l-5.6,5.6 l-5.6,-5.6 Z" fill="#fff" stroke="#2ca02c" stroke-width="2.3"/><path d="M1360.5,1619.4 l5.6,5.6 l-5.6,5.6 l-5.6,-5.6 Z" fill="#fff" stroke="#2ca02c" stroke-width="2.3"/><path d="M1400,1579.4 l5.6,5.6 l-5.6,5.6 l-5.6,-5.6 Z" fill="#fff" stroke="#2ca02c" stroke-width="2.3"/><path d="M1447.1,1522.3 l5.6,5.6 l-5.6,5.6 l-5.6,-5.6 Z" fill="#fff" stroke="#2ca02c" stroke-width="2.3"/><path d="M1502.2,1482.9 l5.6,5.6 l-5.6,5.6 l-5.6,-5.6 Z" fill="#fff" stroke="#2ca02c" stroke-width="2.3"/><path d="M1531.1,1474 l5.6,5.6 l-5.6,5.6 l-5.6,-5.6 Z" fill="#fff" stroke="#2ca02c" stroke-width="2.3"/><path d="M1546.8,1480.3 l5.6,5.6 l-5.6,5.6 l-5.6,-5.6 Z" fill="#fff" stroke="#2ca02c" stroke-width="2.3"/><path d="M1573.1,1493.4 l5.6,5.6 l-5.6,5.6 l-5.6,-5.6 Z" fill="#fff" stroke="#2ca02c" stroke-width="2.3"/><path d="M1588.8,1501.3 l5.6,5.6 l-5.6,5.6 l-5.6,-5.6 Z" fill="#fff" stroke="#2ca02c" stroke-width="2.3"/>
<path d="M1311.2,1671.6 L1360.9,1623.5 L1384.2,1597.1 L1468,1525.7 L1516.1,1497.7 L1542.5,1494 L1559.6,1500.8 L1579.8,1508.6 L1628,1541.2 L1668.3,1556.7" fill="none" stroke="#17becf" stroke-width="2.5" stroke-linejoin="round"/><path d="M1311.2,1666 l5.6,5.6 l-5.6,5.6 l-5.6,-5.6 Z" fill="#fff" stroke="#17becf" stroke-width="2.3"/><path d="M1360.9,1617.9 l5.6,5.6 l-5.6,5.6 l-5.6,-5.6 Z" fill="#fff" stroke="#17becf" stroke-width="2.3"/><path d="M1384.2,1591.5 l5.6,5.6 l-5.6,5.6 l-5.6,-5.6 Z" fill="#fff" stroke="#17becf" stroke-width="2.3"/><path d="M1468,1520.1 l5.6,5.6 l-5.6,5.6 l-5.6,-5.6 Z" fill="#fff" stroke="#17becf" stroke-width="2.3"/><path d="M1516.1,1492.1 l5.6,5.6 l-5.6,5.6 l-5.6,-5.6 Z" fill="#fff" stroke="#17becf" stroke-width="2.3"/><path d="M1542.5,1488.4 l5.6,5.6 l-5.6,5.6 l-5.6,-5.6 Z" fill="#fff" stroke="#17becf" stroke-width="2.3"/><path d="M1559.6,1495.2 l5.6,5.6 l-5.6,5.6 l-5.6,-5.6 Z" fill="#fff" stroke="#17becf" stroke-width="2.3"/><path d="M1579.8,1503 l5.6,5.6 l-5.6,5.6 l-5.6,-5.6 Z" fill="#fff" stroke="#17becf" stroke-width="2.3"/><path d="M1628,1535.6 l5.6,5.6 l-5.6,5.6 l-5.6,-5.6 Z" fill="#fff" stroke="#17becf" stroke-width="2.3"/><path d="M1668.3,1551.1 l5.6,5.6 l-5.6,5.6 l-5.6,-5.6 Z" fill="#fff" stroke="#17becf" stroke-width="2.3"/>
<path d="M1311.2,1671.6 L1360.9,1623.5 L1424.5,1567.6 L1489.8,1519.4 L1530.1,1507 L1556.5,1508.6 L1590.7,1516.3 L1615.5,1525.7 L1637.3,1541.2 L1671.4,1559.8" fill="none" stroke="#1f77b4" stroke-width="2.5" stroke-linejoin="round"/><path d="M1311.2,1666 L1316.8,1675.8 L1305.6,1675.8 Z" fill="#fff" stroke="#1f77b4" stroke-width="2.3"/><path d="M1360.9,1617.9 L1366.5,1627.7 L1355.3,1627.7 Z" fill="#fff" stroke="#1f77b4" stroke-width="2.3"/><path d="M1424.5,1562 L1430.1,1571.8 L1418.9,1571.8 Z" fill="#fff" stroke="#1f77b4" stroke-width="2.3"/><path d="M1489.8,1513.8 L1495.4,1523.6 L1484.2,1523.6 Z" fill="#fff" stroke="#1f77b4" stroke-width="2.3"/><path d="M1530.1,1501.4 L1535.7,1511.2 L1524.5,1511.2 Z" fill="#fff" stroke="#1f77b4" stroke-width="2.3"/><path d="M1556.5,1503 L1562.1,1512.8 L1550.9,1512.8 Z" fill="#fff" stroke="#1f77b4" stroke-width="2.3"/><path d="M1590.7,1510.7 L1596.3,1520.5 L1585.1,1520.5 Z" fill="#fff" stroke="#1f77b4" stroke-width="2.3"/><path d="M1615.5,1520.1 L1621.1,1529.9 L1609.9,1529.9 Z" fill="#fff" stroke="#1f77b4" stroke-width="2.3"/><path d="M1637.3,1535.6 L1642.9,1545.4 L1631.7,1545.4 Z" fill="#fff" stroke="#1f77b4" stroke-width="2.3"/><path d="M1671.4,1554.2 L1677,1564 L1665.8,1564 Z" fill="#fff" stroke="#1f77b4" stroke-width="2.3"/>
<path d="M1311.2,1671.6 L1360.9,1623.5 L1399.7,1595.5 L1457.1,1553.6 L1509.9,1524.1 L1545.7,1519.4 L1593.8,1519.4 L1624.8,1530.3 L1646.6,1544.3 L1671.4,1559.8" fill="none" stroke="#9467bd" stroke-width="2.5" stroke-linejoin="round"/><path d="M1311.2,1664.8 L1312.9,1669.3 L1317.6,1669.5 L1313.9,1672.5 L1315.2,1677.1 L1311.2,1674.5 L1307.2,1677.1 L1308.5,1672.5 L1304.8,1669.5 L1309.5,1669.3 Z" fill="#fff" stroke="#9467bd" stroke-width="2"/><path d="M1360.9,1616.8 L1362.6,1621.2 L1367.3,1621.4 L1363.6,1624.4 L1364.9,1629 L1360.9,1626.4 L1356.9,1629 L1358.2,1624.4 L1354.5,1621.4 L1359.2,1621.2 Z" fill="#fff" stroke="#9467bd" stroke-width="2"/><path d="M1399.7,1588.8 L1401.4,1593.2 L1406.1,1593.4 L1402.4,1596.4 L1403.7,1601 L1399.7,1598.4 L1395.7,1601 L1397,1596.4 L1393.3,1593.4 L1398,1593.2 Z" fill="#fff" stroke="#9467bd" stroke-width="2"/><path d="M1457.1,1546.8 L1458.8,1551.3 L1463.5,1551.5 L1459.8,1554.5 L1461.1,1559.1 L1457.1,1556.5 L1453.1,1559.1 L1454.4,1554.5 L1450.7,1551.5 L1455.4,1551.3 Z" fill="#fff" stroke="#9467bd" stroke-width="2"/><path d="M1509.9,1517.3 L1511.6,1521.8 L1516.3,1522 L1512.6,1525 L1513.9,1529.6 L1509.9,1527 L1505.9,1529.6 L1507.2,1525 L1503.5,1522 L1508.2,1521.8 Z" fill="#fff" stroke="#9467bd" stroke-width="2"/><path d="M1545.7,1512.7 L1547.4,1517.1 L1552.1,1517.3 L1548.4,1520.3 L1549.7,1524.9 L1545.7,1522.3 L1541.7,1524.9 L1543,1520.3 L1539.3,1517.3 L1544,1517.1 Z" fill="#fff" stroke="#9467bd" stroke-width="2"/><path d="M1593.8,1512.7 L1595.5,1517.1 L1600.2,1517.3 L1596.5,1520.3 L1597.8,1524.9 L1593.8,1522.3 L1589.8,1524.9 L1591.1,1520.3 L1587.4,1517.3 L1592.1,1517.1 Z" fill="#fff" stroke="#9467bd" stroke-width="2"/><path d="M1624.8,1523.5 L1626.5,1528 L1631.2,1528.2 L1627.5,1531.2 L1628.8,1535.8 L1624.8,1533.2 L1620.8,1535.8 L1622.1,1531.2 L1618.4,1528.2 L1623.1,1528 Z" fill="#fff" stroke="#9467bd" stroke-width="2"/><path d="M1646.6,1537.5 L1648.3,1542 L1653,1542.2 L1649.3,1545.2 L1650.6,1549.8 L1646.6,1547.2 L1642.6,1549.8 L1643.9,1545.2 L1640.2,1542.2 L1644.9,1542 Z" fill="#fff" stroke="#9467bd" stroke-width="2"/><path d="M1671.4,1553 L1673.1,1557.5 L1677.8,1557.7 L1674.1,1560.7 L1675.4,1565.3 L1671.4,1562.7 L1667.4,1565.3 L1668.7,1560.7 L1665,1557.7 L1669.7,1557.5 Z" fill="#fff" stroke="#9467bd" stroke-width="2"/>
<text x="1527" y="1474.6" font-size="22" text-anchor="middle" font-weight="bold" font-style="normal" fill="#2ca02c" textLength="24" lengthAdjust="spacingAndGlyphs" >25</text>
<text x="1570.5" y="1491.7" font-size="22" text-anchor="middle" font-weight="bold" font-style="normal" fill="#2ca02c" textLength="24" lengthAdjust="spacingAndGlyphs" >35</text>
<text x="1430.7" y="1529" font-size="22" text-anchor="middle" font-weight="bold" font-style="normal" fill="#2ca02c" textLength="24" lengthAdjust="spacingAndGlyphs" >15</text>
<text x="1466.5" y="1518.1" font-size="22" text-anchor="middle" font-weight="bold" font-style="normal" fill="#17becf" textLength="24" lengthAdjust="spacingAndGlyphs" >15</text>
<text x="1544.1" y="1518.1" font-size="22" text-anchor="middle" font-weight="bold" font-style="normal" fill="#1f77b4" textLength="24" lengthAdjust="spacingAndGlyphs" >25</text>
<text x="1603.1" y="1511.9" font-size="22" text-anchor="middle" font-weight="bold" font-style="normal" fill="#1f77b4" textLength="24" lengthAdjust="spacingAndGlyphs" >35</text>
<text x="1645" y="1536.8" font-size="22" text-anchor="middle" font-weight="bold" font-style="normal" fill="#1f77b4" textLength="24" lengthAdjust="spacingAndGlyphs" >45</text>
<text x="1433.9" y="1592.7" font-size="22" text-anchor="middle" font-weight="bold" font-style="normal" fill="#1f77b4" textLength="24" lengthAdjust="spacingAndGlyphs" >15</text>
<text x="1528.6" y="1536.8" font-size="22" text-anchor="middle" font-weight="bold" font-style="normal" fill="#9467bd" textLength="24" lengthAdjust="spacingAndGlyphs" >25</text>
<text x="1590.7" y="1543" font-size="22" text-anchor="middle" font-weight="bold" font-style="normal" fill="#9467bd" textLength="24" lengthAdjust="spacingAndGlyphs" >35</text>
<text x="1665.2" y="1549.2" font-size="22" text-anchor="middle" font-weight="bold" font-style="normal" fill="#9467bd" textLength="24" lengthAdjust="spacingAndGlyphs" >45</text>
<text x="1404.3" y="1620.6" font-size="22" text-anchor="middle" font-weight="bold" font-style="normal" fill="#9467bd" textLength="24" lengthAdjust="spacingAndGlyphs" >15</text>
<text x="1437" y="1558.5" font-size="22" text-anchor="middle" font-weight="bold" font-style="normal" fill="#ffd200" textLength="11" lengthAdjust="spacingAndGlyphs" >5</text>
<text x="1523.9" y="1567.8" font-size="22" text-anchor="middle" font-weight="bold" font-style="normal" fill="#ffd200" textLength="24" lengthAdjust="spacingAndGlyphs" >15</text>
<text x="1516.1" y="1591.1" font-size="22" text-anchor="middle" font-weight="bold" font-style="normal" fill="#ff7f0e" textLength="24" lengthAdjust="spacingAndGlyphs" >15</text>
<text x="1562.7" y="1602" font-size="22" text-anchor="middle" font-weight="bold" font-style="normal" fill="#ff7f0e" textLength="24" lengthAdjust="spacingAndGlyphs" >25</text>
<text x="1623.3" y="1600.4" font-size="22" text-anchor="middle" font-weight="bold" font-style="normal" fill="#ff7f0e" textLength="24" lengthAdjust="spacingAndGlyphs" >35</text>
<text x="1485.1" y="1619" font-size="22" text-anchor="middle" font-weight="bold" font-style="normal" fill="#d62728" textLength="11" lengthAdjust="spacingAndGlyphs" >5</text>
<text x="1516.1" y="1637.7" font-size="22" text-anchor="middle" font-weight="bold" font-style="normal" fill="#d62728" textLength="24" lengthAdjust="spacingAndGlyphs" >10</text>
<text x="1292.5" y="1678" font-size="22" text-anchor="middle" font-weight="bold" font-style="normal" fill="#111" textLength="11" lengthAdjust="spacingAndGlyphs" >5</text>
<text transform="translate(1158.5,1739.9) rotate(-45.5)" font-size="21.5" text-anchor="middle" fill="#8a8a8a" textLength="115" lengthAdjust="spacingAndGlyphs">Sr/Y = 200</text>
<text transform="translate(1188.7,1848.8) rotate(-45.5)" font-size="21.5" text-anchor="middle" fill="#8a8a8a" textLength="115" lengthAdjust="spacingAndGlyphs">Sr/Y = 100</text>
<text transform="translate(1372.4,1852.8) rotate(-45.5)" font-size="21.5" text-anchor="middle" fill="#8a8a8a" textLength="104" lengthAdjust="spacingAndGlyphs">Sr/Y = 30</text>
<text transform="translate(1612.5,1852.8) rotate(-45.5)" font-size="21.5" text-anchor="middle" fill="#8a8a8a" textLength="104" lengthAdjust="spacingAndGlyphs">Sr/Y = 10</text>
<text x="1192.6" y="1336.3" font-size="36" text-anchor="start" font-weight="bold" font-style="italic" fill="#2e2a8e" textLength="161" lengthAdjust="spacingAndGlyphs" >“HP”-TTG</text>
<text x="1641.3" y="1383.6" font-size="36" text-anchor="start" font-weight="bold" font-style="italic" fill="#15a052" textLength="168" lengthAdjust="spacingAndGlyphs" >“MP”-TTG</text>
<text x="1793.5" y="1766.7" font-size="36" text-anchor="start" font-weight="bold" font-style="italic" fill="#f7891e" textLength="152" lengthAdjust="spacingAndGlyphs" >“LP”-TTG</text>
<rect x="1105" y="1191" width="870.6" height="700.6" fill="none" stroke="#111" stroke-width="2.5"/>
<path d="M1139.5,1891.6 v6.7 M1168.6,1891.6 v6.7 M1193.9,1891.6 v6.7 M1216.1,1891.6 v6.7 M1236,1891.6 v13 M1367.1,1891.6 v6.7 M1443.7,1891.6 v6.7 M1498.1,1891.6 v6.7 M1540.3,1891.6 v6.7 M1574.8,1891.6 v6.7 M1603.9,1891.6 v6.7 M1629.2,1891.6 v6.7 M1651.4,1891.6 v6.7 M1671.3,1891.6 v13 M1802.4,1891.6 v6.7 M1879,1891.6 v6.7 M1933.4,1891.6 v6.7 M1105,1857 h-7 M1105,1827.7 h-7 M1105,1802.3 h-7 M1105,1780 h-7 M1105,1760 h-14 M1105,1628.3 h-7 M1105,1551.3 h-7 M1105,1496.7 h-7 M1105,1454.3 h-7 M1105,1419.7 h-7 M1105,1390.4 h-7 M1105,1365 h-7 M1105,1342.7 h-7 M1105,1322.6 h-14" stroke="#111" stroke-width="2"/>
<text x="1105" y="1931.7" font-size="23" text-anchor="middle" font-weight="normal" font-style="normal" fill="#111" textLength="32.6" lengthAdjust="spacingAndGlyphs" >0.5</text>
<text x="1236" y="1931.7" font-size="23" text-anchor="middle" font-weight="normal" font-style="normal" fill="#111" textLength="13.3" lengthAdjust="spacingAndGlyphs" >1</text>
<text x="1671.3" y="1931.7" font-size="23" text-anchor="middle" font-weight="normal" font-style="normal" fill="#111" textLength="26.6" lengthAdjust="spacingAndGlyphs" >10</text>
<text x="1980" y="1931.7" font-size="23" text-anchor="middle" font-weight="normal" font-style="normal" fill="#111" textLength="26.6" lengthAdjust="spacingAndGlyphs" >50</text>
<text x="1085.5" y="1201.5" font-size="23" text-anchor="end" font-weight="normal" font-style="normal" fill="#111" textLength="56" lengthAdjust="spacingAndGlyphs" >2000</text>
<text x="1085.5" y="1333.1" font-size="23" text-anchor="end" font-weight="normal" font-style="normal" fill="#111" textLength="56" lengthAdjust="spacingAndGlyphs" >1000</text>
<text x="1085.5" y="1464.8" font-size="23" text-anchor="end" font-weight="normal" font-style="normal" fill="#111" textLength="42" lengthAdjust="spacingAndGlyphs" >500</text>
<text x="1085.5" y="1770.5" font-size="23" text-anchor="end" font-weight="normal" font-style="normal" fill="#111" textLength="42" lengthAdjust="spacingAndGlyphs" >100</text>
<text x="1085.5" y="1902.1" font-size="23" text-anchor="end" font-weight="normal" font-style="normal" fill="#111" textLength="28" lengthAdjust="spacingAndGlyphs" >50</text>
<text x="1532.4" y="1968" font-size="38" text-anchor="middle" font-weight="bold" font-style="italic" fill="#111" textLength="139" lengthAdjust="spacingAndGlyphs" >Y (ppm)</text>
<text transform="translate(1034,1542) rotate(-90)" font-size="38" text-anchor="middle" font-weight="bold" font-style="italic" fill="#111" textLength="155" lengthAdjust="spacingAndGlyphs">Sr (ppm)</text>
<rect x="1930" y="1845.4" width="45.6" height="46.2" fill="#fff" stroke="#111" stroke-width="2"/>
<text x="1953" y="1880" font-size="46" text-anchor="middle" font-weight="normal" font-style="normal" fill="#111" >e</text>
</g></svg></body></html>
